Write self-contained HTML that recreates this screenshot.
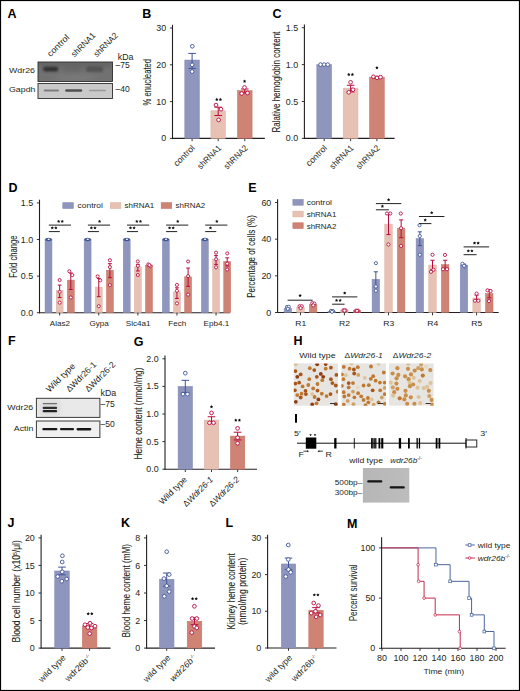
<!DOCTYPE html>
<html><head><meta charset="utf-8"><style>
html,body{margin:0;padding:0;background:#fff;}
body{width:520px;height:691px;overflow:hidden;}
svg{display:block;font-family:"Liberation Sans", sans-serif;}
</style></head><body>
<svg width="520" height="691" viewBox="0 0 520 691">
<rect x="0" y="0" width="520" height="691" fill="#fff"/>
<defs><filter id="bl1" x="-50%" y="-100%" width="200%" height="300%"><feGaussianBlur stdDeviation="1.1"/></filter><filter id="bl2" x="-50%" y="-100%" width="200%" height="300%"><feGaussianBlur stdDeviation="0.7"/></filter><filter id="bl3" x="-20%" y="-20%" width="140%" height="140%"><feGaussianBlur stdDeviation="2.5"/></filter><filter id="bl4"><feGaussianBlur stdDeviation="0.35"/></filter><filter id="bl6" x="-30%" y="-60%" width="160%" height="220%"><feGaussianBlur stdDeviation="0.8"/></filter><filter id="bl5" x="-20%" y="-100%" width="140%" height="300%"><feGaussianBlur stdDeviation="0.55"/></filter><linearGradient id="gelg" x1="0" y1="0" x2="1" y2="0"><stop offset="0" stop-color="#b6b6b6"/><stop offset="1" stop-color="#bdbdbd"/></linearGradient></defs>
<text transform="translate(7.50 17.50)" font-size="12.5" text-anchor="start" font-weight="bold" font-style="normal" fill="#000">A</text>
<clipPath id="clA"><rect x="38" y="62" width="74.5" height="19.5"/></clipPath>
<rect x="38.00" y="62.00" width="74.50" height="19.50" fill="#717171" stroke="none" stroke-width="0.6"/>
<g clip-path="url(#clA)"><g filter="url(#bl3)"><rect x="38" y="60" width="74.5" height="7" fill="#646464"/><ellipse cx="75" cy="77.5" rx="22" ry="3" fill="#7a7a7a"/><rect x="64" y="66" width="17" height="6" fill="#666"/></g>
<g filter="url(#bl1)"><rect x="86" y="66.3" width="17" height="5.6" rx="2.5" fill="#535353"/></g>
<g filter="url(#bl6)"><rect x="43.2" y="66.8" width="15" height="4.6" rx="2" fill="#303030"/></g></g>
<rect x="38.00" y="62.00" width="74.50" height="19.50" fill="none" stroke="#2e2e2e" stroke-width="0.9"/>
<rect x="38.00" y="83.50" width="74.50" height="15.00" fill="#c9c9c9" stroke="none" stroke-width="0.6"/>
<g filter="url(#bl5)"><rect x="43.7" y="89.5" width="15.3" height="1.9" rx="0.9" fill="#7e7e7e"/><rect x="65.2" y="89.3" width="17" height="2.5" rx="1.2" fill="#505050"/><rect x="89" y="89.7" width="17" height="1.6" rx="0.8" fill="#989898"/></g>
<rect x="38.00" y="83.50" width="74.50" height="15.00" fill="none" stroke="#2e2e2e" stroke-width="0.9"/>
<text transform="translate(9.00 72.80) scale(1.09 1)" font-size="8.1" text-anchor="start" font-weight="normal" font-style="normal" fill="#231f20">Wdr26</text>
<text transform="translate(9.00 91.80) scale(1.09 1)" font-size="8.1" text-anchor="start" font-weight="normal" font-style="normal" fill="#231f20">Gapdh</text>
<text transform="translate(117.80 59.90) scale(1.02 1)" font-size="8.6" text-anchor="start" font-weight="normal" font-style="normal" fill="#231f20">kDa</text>
<text transform="translate(115.60 68.30) scale(0.92 1)" font-size="9.3" text-anchor="start" font-weight="normal" font-style="normal" fill="#231f20">–75</text>
<text transform="translate(115.60 91.70) scale(0.92 1)" font-size="9.3" text-anchor="start" font-weight="normal" font-style="normal" fill="#231f20">–40</text>
<text transform="translate(50.50 57.30) rotate(-45) scale(1.06 1)" font-size="8.6" text-anchor="start" font-weight="normal" font-style="normal" fill="#231f20">control</text>
<text transform="translate(74.60 57.60) rotate(-45) scale(0.95 1)" font-size="8.6" text-anchor="start" font-weight="normal" font-style="normal" fill="#231f20">shRNA1</text>
<text transform="translate(97.00 57.60) rotate(-45) scale(0.95 1)" font-size="8.6" text-anchor="start" font-weight="normal" font-style="normal" fill="#231f20">shRNA2</text>
<text transform="translate(142.30 17.50)" font-size="12.5" text-anchor="start" font-weight="bold" font-style="normal" fill="#000">B</text>
<line x1="172.50" y1="24.80" x2="172.50" y2="138.90" stroke="#231f20" stroke-width="1.1"/>
<line x1="172.00" y1="138.40" x2="264.90" y2="138.40" stroke="#231f20" stroke-width="1.1"/>
<line x1="169.90" y1="138.40" x2="172.50" y2="138.40" stroke="#231f20" stroke-width="0.9"/>
<text transform="translate(166.20 141.45) scale(0.99 1)" font-size="9.0" text-anchor="end" font-weight="normal" font-style="normal" fill="#231f20">0</text>
<line x1="169.90" y1="101.60" x2="172.50" y2="101.60" stroke="#231f20" stroke-width="0.9"/>
<text transform="translate(166.20 104.65) scale(0.99 1)" font-size="9.0" text-anchor="end" font-weight="normal" font-style="normal" fill="#231f20">10</text>
<line x1="169.90" y1="64.80" x2="172.50" y2="64.80" stroke="#231f20" stroke-width="0.9"/>
<text transform="translate(166.20 67.85) scale(0.99 1)" font-size="9.0" text-anchor="end" font-weight="normal" font-style="normal" fill="#231f20">20</text>
<line x1="169.90" y1="28.00" x2="172.50" y2="28.00" stroke="#231f20" stroke-width="0.9"/>
<text transform="translate(166.20 31.05) scale(0.99 1)" font-size="9.0" text-anchor="end" font-weight="normal" font-style="normal" fill="#231f20">30</text>
<line x1="192.10" y1="138.40" x2="192.10" y2="141.20" stroke="#231f20" stroke-width="0.9"/>
<line x1="218.20" y1="138.40" x2="218.20" y2="141.20" stroke="#231f20" stroke-width="0.9"/>
<line x1="244.80" y1="138.40" x2="244.80" y2="141.20" stroke="#231f20" stroke-width="0.9"/>
<rect x="184.80" y="60.02" width="14.60" height="78.38" fill="#8f96bd" stroke="#8088b4" stroke-width="0.5"/>
<rect x="210.90" y="110.80" width="14.60" height="27.60" fill="#e6c1b4" stroke="#dcb1a3" stroke-width="0.5"/>
<rect x="237.50" y="90.56" width="14.60" height="47.84" fill="#cf8374" stroke="#c47262" stroke-width="0.5"/>
<line x1="192.10" y1="68.40" x2="192.10" y2="53.40" stroke="#3f5598" stroke-width="1.0"/>
<line x1="188.30" y1="53.40" x2="195.90" y2="53.40" stroke="#3f5598" stroke-width="1.0"/>
<line x1="188.30" y1="68.40" x2="195.90" y2="68.40" stroke="#3f5598" stroke-width="1.0"/>
<line x1="218.20" y1="115.50" x2="218.20" y2="107.20" stroke="#b80a3e" stroke-width="1.0"/>
<line x1="214.40" y1="107.20" x2="222.00" y2="107.20" stroke="#b80a3e" stroke-width="1.0"/>
<line x1="214.40" y1="115.50" x2="222.00" y2="115.50" stroke="#b80a3e" stroke-width="1.0"/>
<line x1="244.80" y1="93.00" x2="244.80" y2="89.00" stroke="#b80a3e" stroke-width="1.0"/>
<line x1="241.00" y1="89.00" x2="248.60" y2="89.00" stroke="#b80a3e" stroke-width="1.0"/>
<line x1="241.00" y1="93.00" x2="248.60" y2="93.00" stroke="#b80a3e" stroke-width="1.0"/>
<circle cx="192.30" cy="46.30" r="1.85" fill="#fff" stroke="#3f5598" stroke-width="0.9"/>
<circle cx="192.10" cy="64.80" r="1.85" fill="#fff" stroke="#3f5598" stroke-width="0.9"/>
<circle cx="192.10" cy="71.60" r="1.85" fill="#fff" stroke="#3f5598" stroke-width="0.9"/>
<circle cx="216.00" cy="105.10" r="1.85" fill="#fff" stroke="#b80a3e" stroke-width="0.9"/>
<circle cx="221.00" cy="109.20" r="1.85" fill="#fff" stroke="#b80a3e" stroke-width="0.9"/>
<circle cx="218.60" cy="119.90" r="1.85" fill="#fff" stroke="#b80a3e" stroke-width="0.9"/>
<circle cx="244.50" cy="87.50" r="1.85" fill="#fff" stroke="#b80a3e" stroke-width="0.9"/>
<circle cx="241.70" cy="93.50" r="1.85" fill="#fff" stroke="#b80a3e" stroke-width="0.9"/>
<circle cx="247.50" cy="93.00" r="1.85" fill="#fff" stroke="#b80a3e" stroke-width="0.9"/>
<polygon points="216.80,97.80 217.36,98.73 218.42,98.97 217.70,99.79 217.80,100.88 216.80,100.45 215.80,100.88 215.90,99.79 215.18,98.97 216.24,98.73" fill="#111"/>
<polygon points="220.40,97.80 220.96,98.73 222.02,98.97 221.30,99.79 221.40,100.88 220.40,100.45 219.40,100.88 219.50,99.79 218.78,98.97 219.84,98.73" fill="#111"/>
<polygon points="244.60,79.60 245.16,80.53 246.22,80.77 245.50,81.59 245.60,82.68 244.60,82.25 243.60,82.68 243.70,81.59 242.98,80.77 244.04,80.53" fill="#111"/>
<text transform="translate(151.20 82.20) rotate(-90) scale(0.77 1)" font-size="10.0" text-anchor="middle" font-weight="normal" font-style="normal" fill="#231f20" stroke="#231f20" stroke-width="0.08">% enucleated</text>
<text transform="translate(195.30 148.60) rotate(-45)" font-size="8.6" text-anchor="end" font-weight="normal" font-style="normal" fill="#231f20">control</text>
<text transform="translate(221.80 148.60) rotate(-45) scale(0.93 1)" font-size="8.6" text-anchor="end" font-weight="normal" font-style="normal" fill="#231f20">shRNA1</text>
<text transform="translate(248.40 148.60) rotate(-45) scale(0.93 1)" font-size="8.6" text-anchor="end" font-weight="normal" font-style="normal" fill="#231f20">shRNA2</text>
<text transform="translate(272.50 17.50)" font-size="12.5" text-anchor="start" font-weight="bold" font-style="normal" fill="#000">C</text>
<line x1="304.40" y1="24.50" x2="304.40" y2="138.90" stroke="#231f20" stroke-width="1.1"/>
<line x1="303.90" y1="138.40" x2="394.60" y2="138.40" stroke="#231f20" stroke-width="1.1"/>
<line x1="301.80" y1="138.40" x2="304.40" y2="138.40" stroke="#231f20" stroke-width="0.9"/>
<text transform="translate(298.10 141.45) scale(0.99 1)" font-size="9.0" text-anchor="end" font-weight="normal" font-style="normal" fill="#231f20">0.0</text>
<line x1="301.80" y1="101.50" x2="304.40" y2="101.50" stroke="#231f20" stroke-width="0.9"/>
<text transform="translate(298.10 104.55) scale(0.99 1)" font-size="9.0" text-anchor="end" font-weight="normal" font-style="normal" fill="#231f20">0.5</text>
<line x1="301.80" y1="64.60" x2="304.40" y2="64.60" stroke="#231f20" stroke-width="0.9"/>
<text transform="translate(298.10 67.65) scale(0.99 1)" font-size="9.0" text-anchor="end" font-weight="normal" font-style="normal" fill="#231f20">1.0</text>
<line x1="301.80" y1="27.70" x2="304.40" y2="27.70" stroke="#231f20" stroke-width="0.9"/>
<text transform="translate(298.10 30.75) scale(0.99 1)" font-size="9.0" text-anchor="end" font-weight="normal" font-style="normal" fill="#231f20">1.5</text>
<line x1="324.20" y1="138.40" x2="324.20" y2="141.20" stroke="#231f20" stroke-width="0.9"/>
<line x1="350.60" y1="138.40" x2="350.60" y2="141.20" stroke="#231f20" stroke-width="0.9"/>
<line x1="376.90" y1="138.40" x2="376.90" y2="141.20" stroke="#231f20" stroke-width="0.9"/>
<rect x="316.80" y="64.60" width="14.80" height="73.80" fill="#8f96bd" stroke="#8088b4" stroke-width="0.5"/>
<rect x="343.20" y="88.22" width="14.80" height="50.18" fill="#e6c1b4" stroke="#dcb1a3" stroke-width="0.5"/>
<rect x="369.50" y="77.15" width="14.80" height="61.25" fill="#cf8374" stroke="#c47262" stroke-width="0.5"/>
<line x1="350.60" y1="91.91" x2="350.60" y2="85.26" stroke="#b80a3e" stroke-width="1.0"/>
<line x1="346.80" y1="85.26" x2="354.40" y2="85.26" stroke="#b80a3e" stroke-width="1.0"/>
<line x1="346.80" y1="91.91" x2="354.40" y2="91.91" stroke="#b80a3e" stroke-width="1.0"/>
<line x1="376.90" y1="78.25" x2="376.90" y2="76.41" stroke="#b80a3e" stroke-width="1.0"/>
<line x1="373.10" y1="76.41" x2="380.70" y2="76.41" stroke="#b80a3e" stroke-width="1.0"/>
<line x1="373.10" y1="78.25" x2="380.70" y2="78.25" stroke="#b80a3e" stroke-width="1.0"/>
<circle cx="320.60" cy="64.60" r="1.85" fill="#fff" stroke="#3f5598" stroke-width="0.9"/>
<circle cx="324.20" cy="64.60" r="1.85" fill="#fff" stroke="#3f5598" stroke-width="0.9"/>
<circle cx="327.80" cy="64.60" r="1.85" fill="#fff" stroke="#3f5598" stroke-width="0.9"/>
<circle cx="350.60" cy="82.31" r="1.85" fill="#fff" stroke="#b80a3e" stroke-width="0.9"/>
<circle cx="348.80" cy="92.28" r="1.85" fill="#fff" stroke="#b80a3e" stroke-width="0.9"/>
<circle cx="353.00" cy="89.69" r="1.85" fill="#fff" stroke="#b80a3e" stroke-width="0.9"/>
<circle cx="373.40" cy="76.78" r="1.85" fill="#fff" stroke="#b80a3e" stroke-width="0.9"/>
<circle cx="377.00" cy="77.88" r="1.85" fill="#fff" stroke="#b80a3e" stroke-width="0.9"/>
<circle cx="380.50" cy="77.15" r="1.85" fill="#fff" stroke="#b80a3e" stroke-width="0.9"/>
<polygon points="348.80,72.80 349.36,73.73 350.42,73.97 349.70,74.79 349.80,75.88 348.80,75.45 347.80,75.88 347.90,74.79 347.18,73.97 348.24,73.73" fill="#111"/>
<polygon points="352.40,72.80 352.96,73.73 354.02,73.97 353.30,74.79 353.40,75.88 352.40,75.45 351.40,75.88 351.50,74.79 350.78,73.97 351.84,73.73" fill="#111"/>
<polygon points="376.90,66.10 377.46,67.03 378.52,67.27 377.80,68.09 377.90,69.18 376.90,68.75 375.90,69.18 376.00,68.09 375.28,67.27 376.34,67.03" fill="#111"/>
<text transform="translate(280.30 82.00) rotate(-90) scale(0.8 1)" font-size="10.0" text-anchor="middle" font-weight="normal" font-style="normal" fill="#231f20" stroke="#231f20" stroke-width="0.08">Ralative hemoglobin content</text>
<text transform="translate(327.60 148.60) rotate(-45)" font-size="8.6" text-anchor="end" font-weight="normal" font-style="normal" fill="#231f20">control</text>
<text transform="translate(354.10 148.60) rotate(-45) scale(0.93 1)" font-size="8.6" text-anchor="end" font-weight="normal" font-style="normal" fill="#231f20">shRNA1</text>
<text transform="translate(380.50 148.60) rotate(-45) scale(0.93 1)" font-size="8.6" text-anchor="end" font-weight="normal" font-style="normal" fill="#231f20">shRNA2</text>
<text transform="translate(8.50 191.50)" font-size="12.5" text-anchor="start" font-weight="bold" font-style="normal" fill="#000">D</text>
<line x1="39.50" y1="199.70" x2="39.50" y2="313.20" stroke="#231f20" stroke-width="1.1"/>
<line x1="39.00" y1="312.70" x2="230.00" y2="312.70" stroke="#231f20" stroke-width="1.1"/>
<line x1="36.90" y1="312.70" x2="39.50" y2="312.70" stroke="#231f20" stroke-width="0.9"/>
<text transform="translate(33.20 315.75) scale(0.99 1)" font-size="9.0" text-anchor="end" font-weight="normal" font-style="normal" fill="#231f20">0.0</text>
<line x1="36.90" y1="276.10" x2="39.50" y2="276.10" stroke="#231f20" stroke-width="0.9"/>
<text transform="translate(33.20 279.15) scale(0.99 1)" font-size="9.0" text-anchor="end" font-weight="normal" font-style="normal" fill="#231f20">0.5</text>
<line x1="36.90" y1="239.50" x2="39.50" y2="239.50" stroke="#231f20" stroke-width="0.9"/>
<text transform="translate(33.20 242.55) scale(0.99 1)" font-size="9.0" text-anchor="end" font-weight="normal" font-style="normal" fill="#231f20">1.0</text>
<line x1="36.90" y1="202.90" x2="39.50" y2="202.90" stroke="#231f20" stroke-width="0.9"/>
<text transform="translate(33.20 205.95) scale(0.99 1)" font-size="9.0" text-anchor="end" font-weight="normal" font-style="normal" fill="#231f20">1.5</text>
<rect x="45.05" y="239.50" width="6.90" height="73.20" fill="#8f96bd" stroke="#8088b4" stroke-width="0.5"/>
<ellipse cx="48.50" cy="239.50" rx="3.3" ry="1.7" fill="#3f5598"/>
<ellipse cx="48.70" cy="239.30" rx="1.1" ry="0.8" fill="#fff"/>
<rect x="56.20" y="290.74" width="6.90" height="21.96" fill="#e6c1b4" stroke="#dcb1a3" stroke-width="0.5"/>
<rect x="67.35" y="280.13" width="6.90" height="32.57" fill="#cf8374" stroke="#c47262" stroke-width="0.5"/>
<line x1="59.65" y1="297.55" x2="59.65" y2="285.10" stroke="#b80a3e" stroke-width="1.0"/>
<line x1="57.75" y1="285.10" x2="61.55" y2="285.10" stroke="#b80a3e" stroke-width="1.0"/>
<line x1="57.75" y1="297.55" x2="61.55" y2="297.55" stroke="#b80a3e" stroke-width="1.0"/>
<line x1="70.80" y1="289.50" x2="70.80" y2="272.95" stroke="#b80a3e" stroke-width="1.0"/>
<line x1="68.90" y1="272.95" x2="72.70" y2="272.95" stroke="#b80a3e" stroke-width="1.0"/>
<line x1="68.90" y1="289.50" x2="72.70" y2="289.50" stroke="#b80a3e" stroke-width="1.0"/>
<circle cx="59.65" cy="280.05" r="1.55" fill="#fff" stroke="#b80a3e" stroke-width="0.85"/>
<circle cx="59.65" cy="291.84" r="1.55" fill="#fff" stroke="#b80a3e" stroke-width="0.85"/>
<circle cx="59.65" cy="302.67" r="1.55" fill="#fff" stroke="#b80a3e" stroke-width="0.85"/>
<circle cx="69.30" cy="271.27" r="1.55" fill="#fff" stroke="#b80a3e" stroke-width="0.85"/>
<circle cx="72.30" cy="275.08" r="1.55" fill="#fff" stroke="#b80a3e" stroke-width="0.85"/>
<circle cx="70.80" cy="297.47" r="1.55" fill="#fff" stroke="#b80a3e" stroke-width="0.85"/>
<line x1="59.65" y1="312.70" x2="59.65" y2="315.50" stroke="#231f20" stroke-width="0.9"/>
<text transform="translate(59.95 325.80)" font-size="8.1" text-anchor="middle" font-weight="normal" font-style="normal" fill="#231f20">Alas2</text>
<line x1="48.80" y1="225.10" x2="71.00" y2="225.10" stroke="#231f20" stroke-width="1.0"/>
<line x1="48.80" y1="231.60" x2="59.85" y2="231.60" stroke="#231f20" stroke-width="1.0"/>
<polygon points="58.65,219.70 59.21,220.63 60.27,220.87 59.55,221.69 59.65,222.78 58.65,222.35 57.65,222.78 57.75,221.69 57.03,220.87 58.09,220.63" fill="#111"/>
<polygon points="62.25,219.70 62.81,220.63 63.87,220.87 63.15,221.69 63.25,222.78 62.25,222.35 61.25,222.78 61.35,221.69 60.63,220.87 61.69,220.63" fill="#111"/>
<polygon points="52.28,226.20 52.83,227.13 53.89,227.37 53.18,228.19 53.27,229.28 52.28,228.85 51.28,229.28 51.37,228.19 50.66,227.37 51.72,227.13" fill="#111"/>
<polygon points="55.88,226.20 56.43,227.13 57.49,227.37 56.78,228.19 56.87,229.28 55.88,228.85 54.88,229.28 54.97,228.19 54.26,227.37 55.32,227.13" fill="#111"/>
<rect x="84.15" y="239.50" width="6.90" height="73.20" fill="#8f96bd" stroke="#8088b4" stroke-width="0.5"/>
<ellipse cx="87.60" cy="239.50" rx="3.3" ry="1.7" fill="#3f5598"/>
<ellipse cx="87.80" cy="239.30" rx="1.1" ry="0.8" fill="#fff"/>
<rect x="95.30" y="287.08" width="6.90" height="25.62" fill="#e6c1b4" stroke="#dcb1a3" stroke-width="0.5"/>
<rect x="106.45" y="270.24" width="6.90" height="42.46" fill="#cf8374" stroke="#c47262" stroke-width="0.5"/>
<line x1="98.75" y1="296.67" x2="98.75" y2="278.59" stroke="#b80a3e" stroke-width="1.0"/>
<line x1="96.85" y1="278.59" x2="100.65" y2="278.59" stroke="#b80a3e" stroke-width="1.0"/>
<line x1="96.85" y1="296.67" x2="100.65" y2="296.67" stroke="#b80a3e" stroke-width="1.0"/>
<line x1="109.90" y1="277.64" x2="109.90" y2="263.66" stroke="#b80a3e" stroke-width="1.0"/>
<line x1="108.00" y1="263.66" x2="111.80" y2="263.66" stroke="#b80a3e" stroke-width="1.0"/>
<line x1="108.00" y1="277.64" x2="111.80" y2="277.64" stroke="#b80a3e" stroke-width="1.0"/>
<circle cx="97.65" cy="276.32" r="1.55" fill="#fff" stroke="#b80a3e" stroke-width="0.85"/>
<circle cx="100.25" cy="280.35" r="1.55" fill="#fff" stroke="#b80a3e" stroke-width="0.85"/>
<circle cx="98.75" cy="306.19" r="1.55" fill="#fff" stroke="#b80a3e" stroke-width="0.85"/>
<circle cx="109.90" cy="260.22" r="1.55" fill="#fff" stroke="#b80a3e" stroke-width="0.85"/>
<circle cx="109.90" cy="267.10" r="1.55" fill="#fff" stroke="#b80a3e" stroke-width="0.85"/>
<circle cx="109.90" cy="285.10" r="1.55" fill="#fff" stroke="#b80a3e" stroke-width="0.85"/>
<line x1="98.75" y1="312.70" x2="98.75" y2="315.50" stroke="#231f20" stroke-width="0.9"/>
<text transform="translate(99.05 325.80)" font-size="8.1" text-anchor="middle" font-weight="normal" font-style="normal" fill="#231f20">Gypa</text>
<line x1="87.90" y1="225.10" x2="110.10" y2="225.10" stroke="#231f20" stroke-width="1.0"/>
<line x1="87.90" y1="231.60" x2="98.95" y2="231.60" stroke="#231f20" stroke-width="1.0"/>
<polygon points="99.55,219.70 100.11,220.63 101.17,220.87 100.45,221.69 100.55,222.78 99.55,222.35 98.55,222.78 98.65,221.69 97.93,220.87 98.99,220.63" fill="#111"/>
<polygon points="91.38,226.20 91.93,227.13 92.99,227.37 92.28,228.19 92.37,229.28 91.38,228.85 90.38,229.28 90.47,228.19 89.76,227.37 90.82,227.13" fill="#111"/>
<polygon points="94.97,226.20 95.53,227.13 96.59,227.37 95.88,228.19 95.97,229.28 94.97,228.85 93.98,229.28 94.07,228.19 93.36,227.37 94.42,227.13" fill="#111"/>
<rect x="123.25" y="239.50" width="6.90" height="73.20" fill="#8f96bd" stroke="#8088b4" stroke-width="0.5"/>
<ellipse cx="126.70" cy="239.50" rx="3.3" ry="1.7" fill="#3f5598"/>
<ellipse cx="126.90" cy="239.30" rx="1.1" ry="0.8" fill="#fff"/>
<rect x="134.40" y="266.88" width="6.90" height="45.82" fill="#e6c1b4" stroke="#dcb1a3" stroke-width="0.5"/>
<rect x="145.55" y="265.27" width="6.90" height="47.43" fill="#cf8374" stroke="#c47262" stroke-width="0.5"/>
<line x1="137.85" y1="270.98" x2="137.85" y2="264.39" stroke="#b80a3e" stroke-width="1.0"/>
<line x1="135.95" y1="264.39" x2="139.75" y2="264.39" stroke="#b80a3e" stroke-width="1.0"/>
<line x1="135.95" y1="270.98" x2="139.75" y2="270.98" stroke="#b80a3e" stroke-width="1.0"/>
<line x1="149.00" y1="265.85" x2="149.00" y2="264.39" stroke="#b80a3e" stroke-width="1.0"/>
<line x1="147.10" y1="264.39" x2="150.90" y2="264.39" stroke="#b80a3e" stroke-width="1.0"/>
<line x1="147.10" y1="265.85" x2="150.90" y2="265.85" stroke="#b80a3e" stroke-width="1.0"/>
<circle cx="137.85" cy="261.46" r="1.55" fill="#fff" stroke="#b80a3e" stroke-width="0.85"/>
<circle cx="137.85" cy="265.85" r="1.55" fill="#fff" stroke="#b80a3e" stroke-width="0.85"/>
<circle cx="137.85" cy="275.00" r="1.55" fill="#fff" stroke="#b80a3e" stroke-width="0.85"/>
<circle cx="148.30" cy="264.39" r="1.55" fill="#fff" stroke="#b80a3e" stroke-width="0.85"/>
<circle cx="150.40" cy="266.22" r="1.55" fill="#fff" stroke="#b80a3e" stroke-width="0.85"/>
<circle cx="149.40" cy="265.12" r="1.55" fill="#fff" stroke="#b80a3e" stroke-width="0.85"/>
<line x1="137.85" y1="312.70" x2="137.85" y2="315.50" stroke="#231f20" stroke-width="0.9"/>
<text transform="translate(138.15 325.80)" font-size="8.1" text-anchor="middle" font-weight="normal" font-style="normal" fill="#231f20">Slc4a1</text>
<line x1="127.00" y1="225.10" x2="149.20" y2="225.10" stroke="#231f20" stroke-width="1.0"/>
<line x1="127.00" y1="231.60" x2="138.05" y2="231.60" stroke="#231f20" stroke-width="1.0"/>
<polygon points="136.85,219.70 137.41,220.63 138.47,220.87 137.75,221.69 137.85,222.78 136.85,222.35 135.85,222.78 135.95,221.69 135.23,220.87 136.29,220.63" fill="#111"/>
<polygon points="140.45,219.70 141.01,220.63 142.07,220.87 141.35,221.69 141.45,222.78 140.45,222.35 139.45,222.78 139.55,221.69 138.83,220.87 139.89,220.63" fill="#111"/>
<polygon points="130.47,226.20 131.03,227.13 132.09,227.37 131.38,228.19 131.47,229.28 130.47,228.85 129.48,229.28 129.57,228.19 128.86,227.37 129.92,227.13" fill="#111"/>
<polygon points="134.08,226.20 134.63,227.13 135.69,227.37 134.98,228.19 135.07,229.28 134.08,228.85 133.08,229.28 133.17,228.19 132.46,227.37 133.52,227.13" fill="#111"/>
<rect x="162.35" y="239.50" width="6.90" height="73.20" fill="#8f96bd" stroke="#8088b4" stroke-width="0.5"/>
<ellipse cx="165.80" cy="239.50" rx="3.3" ry="1.7" fill="#3f5598"/>
<ellipse cx="166.00" cy="239.30" rx="1.1" ry="0.8" fill="#fff"/>
<rect x="173.50" y="291.84" width="6.90" height="20.86" fill="#e6c1b4" stroke="#dcb1a3" stroke-width="0.5"/>
<rect x="184.65" y="276.83" width="6.90" height="35.87" fill="#cf8374" stroke="#c47262" stroke-width="0.5"/>
<line x1="176.95" y1="298.43" x2="176.95" y2="287.81" stroke="#b80a3e" stroke-width="1.0"/>
<line x1="175.05" y1="287.81" x2="178.85" y2="287.81" stroke="#b80a3e" stroke-width="1.0"/>
<line x1="175.05" y1="298.43" x2="178.85" y2="298.43" stroke="#b80a3e" stroke-width="1.0"/>
<line x1="188.10" y1="286.35" x2="188.10" y2="268.05" stroke="#b80a3e" stroke-width="1.0"/>
<line x1="186.20" y1="268.05" x2="190.00" y2="268.05" stroke="#b80a3e" stroke-width="1.0"/>
<line x1="186.20" y1="286.35" x2="190.00" y2="286.35" stroke="#b80a3e" stroke-width="1.0"/>
<circle cx="176.95" cy="284.88" r="1.55" fill="#fff" stroke="#b80a3e" stroke-width="0.85"/>
<circle cx="176.95" cy="290.74" r="1.55" fill="#fff" stroke="#b80a3e" stroke-width="0.85"/>
<circle cx="176.95" cy="303.40" r="1.55" fill="#fff" stroke="#b80a3e" stroke-width="0.85"/>
<circle cx="188.10" cy="261.46" r="1.55" fill="#fff" stroke="#b80a3e" stroke-width="0.85"/>
<circle cx="188.10" cy="276.10" r="1.55" fill="#fff" stroke="#b80a3e" stroke-width="0.85"/>
<circle cx="188.10" cy="294.62" r="1.55" fill="#fff" stroke="#b80a3e" stroke-width="0.85"/>
<line x1="176.95" y1="312.70" x2="176.95" y2="315.50" stroke="#231f20" stroke-width="0.9"/>
<text transform="translate(177.25 325.80)" font-size="8.1" text-anchor="middle" font-weight="normal" font-style="normal" fill="#231f20">Fech</text>
<line x1="166.10" y1="225.10" x2="188.30" y2="225.10" stroke="#231f20" stroke-width="1.0"/>
<line x1="166.10" y1="231.60" x2="177.15" y2="231.60" stroke="#231f20" stroke-width="1.0"/>
<polygon points="177.75,219.70 178.31,220.63 179.37,220.87 178.65,221.69 178.75,222.78 177.75,222.35 176.75,222.78 176.85,221.69 176.13,220.87 177.19,220.63" fill="#111"/>
<polygon points="169.57,226.20 170.13,227.13 171.19,227.37 170.48,228.19 170.57,229.28 169.57,228.85 168.58,229.28 168.67,228.19 167.96,227.37 169.02,227.13" fill="#111"/>
<polygon points="173.18,226.20 173.73,227.13 174.79,227.37 174.08,228.19 174.17,229.28 173.18,228.85 172.18,229.28 172.27,228.19 171.56,227.37 172.62,227.13" fill="#111"/>
<rect x="201.45" y="239.50" width="6.90" height="73.20" fill="#8f96bd" stroke="#8088b4" stroke-width="0.5"/>
<ellipse cx="204.90" cy="239.50" rx="3.3" ry="1.7" fill="#3f5598"/>
<ellipse cx="205.10" cy="239.30" rx="1.1" ry="0.8" fill="#fff"/>
<rect x="212.60" y="259.26" width="6.90" height="53.44" fill="#e6c1b4" stroke="#dcb1a3" stroke-width="0.5"/>
<rect x="223.75" y="261.46" width="6.90" height="51.24" fill="#cf8374" stroke="#c47262" stroke-width="0.5"/>
<line x1="216.05" y1="264.39" x2="216.05" y2="255.60" stroke="#b80a3e" stroke-width="1.0"/>
<line x1="214.15" y1="255.60" x2="217.95" y2="255.60" stroke="#b80a3e" stroke-width="1.0"/>
<line x1="214.15" y1="264.39" x2="217.95" y2="264.39" stroke="#b80a3e" stroke-width="1.0"/>
<line x1="227.20" y1="265.85" x2="227.20" y2="257.80" stroke="#b80a3e" stroke-width="1.0"/>
<line x1="225.30" y1="257.80" x2="229.10" y2="257.80" stroke="#b80a3e" stroke-width="1.0"/>
<line x1="225.30" y1="265.85" x2="229.10" y2="265.85" stroke="#b80a3e" stroke-width="1.0"/>
<circle cx="216.05" cy="252.68" r="1.55" fill="#fff" stroke="#b80a3e" stroke-width="0.85"/>
<circle cx="216.05" cy="259.26" r="1.55" fill="#fff" stroke="#b80a3e" stroke-width="0.85"/>
<circle cx="216.05" cy="267.32" r="1.55" fill="#fff" stroke="#b80a3e" stroke-width="0.85"/>
<circle cx="227.20" cy="253.41" r="1.55" fill="#fff" stroke="#b80a3e" stroke-width="0.85"/>
<circle cx="227.20" cy="263.66" r="1.55" fill="#fff" stroke="#b80a3e" stroke-width="0.85"/>
<circle cx="227.20" cy="269.51" r="1.55" fill="#fff" stroke="#b80a3e" stroke-width="0.85"/>
<line x1="216.05" y1="312.70" x2="216.05" y2="315.50" stroke="#231f20" stroke-width="0.9"/>
<text transform="translate(216.35 325.80)" font-size="8.1" text-anchor="middle" font-weight="normal" font-style="normal" fill="#231f20">Epb4.1</text>
<line x1="205.20" y1="225.10" x2="227.40" y2="225.10" stroke="#231f20" stroke-width="1.0"/>
<line x1="205.20" y1="231.60" x2="216.25" y2="231.60" stroke="#231f20" stroke-width="1.0"/>
<polygon points="216.85,219.70 217.41,220.63 218.47,220.87 217.75,221.69 217.85,222.78 216.85,222.35 215.85,222.78 215.95,221.69 215.23,220.87 216.29,220.63" fill="#111"/>
<polygon points="210.48,226.20 211.03,227.13 212.09,227.37 211.38,228.19 211.47,229.28 210.48,228.85 209.48,229.28 209.57,228.19 208.86,227.37 209.92,227.13" fill="#111"/>
<rect x="62.80" y="202.70" width="10.50" height="5.70" fill="#8f96bd" stroke="#8088b4" stroke-width="0.6"/>
<text transform="translate(77.60 208.40) scale(1.04 1)" font-size="8.1" text-anchor="start" font-weight="normal" font-style="normal" fill="#231f20">control</text>
<rect x="110.30" y="202.70" width="10.50" height="5.70" fill="#e6c1b4" stroke="#dcb1a3" stroke-width="0.6"/>
<text transform="translate(124.60 208.40) scale(0.985 1)" font-size="8.1" text-anchor="start" font-weight="normal" font-style="normal" fill="#231f20">shRNA1</text>
<rect x="161.20" y="202.70" width="10.50" height="5.70" fill="#cf8374" stroke="#c47262" stroke-width="0.6"/>
<text transform="translate(175.50 208.40) scale(0.985 1)" font-size="8.1" text-anchor="start" font-weight="normal" font-style="normal" fill="#231f20">shRNA2</text>
<text transform="translate(17.20 256.50) rotate(-90) scale(0.77 1)" font-size="10.0" text-anchor="middle" font-weight="normal" font-style="normal" fill="#231f20" stroke="#231f20" stroke-width="0.08">Fold change</text>
<text transform="translate(248.30 191.50)" font-size="12.5" text-anchor="start" font-weight="bold" font-style="normal" fill="#000">E</text>
<line x1="277.60" y1="199.30" x2="277.60" y2="313.00" stroke="#231f20" stroke-width="1.1"/>
<line x1="277.10" y1="312.50" x2="498.70" y2="312.50" stroke="#231f20" stroke-width="1.1"/>
<line x1="275.00" y1="312.50" x2="277.60" y2="312.50" stroke="#231f20" stroke-width="0.9"/>
<text transform="translate(271.30 315.55) scale(0.99 1)" font-size="9.0" text-anchor="end" font-weight="normal" font-style="normal" fill="#231f20">0</text>
<line x1="275.00" y1="275.83" x2="277.60" y2="275.83" stroke="#231f20" stroke-width="0.9"/>
<text transform="translate(271.30 278.88) scale(0.99 1)" font-size="9.0" text-anchor="end" font-weight="normal" font-style="normal" fill="#231f20">20</text>
<line x1="275.00" y1="239.17" x2="277.60" y2="239.17" stroke="#231f20" stroke-width="0.9"/>
<text transform="translate(271.30 242.22) scale(0.99 1)" font-size="9.0" text-anchor="end" font-weight="normal" font-style="normal" fill="#231f20">40</text>
<line x1="275.00" y1="202.50" x2="277.60" y2="202.50" stroke="#231f20" stroke-width="0.9"/>
<text transform="translate(271.30 205.55) scale(0.99 1)" font-size="9.0" text-anchor="end" font-weight="normal" font-style="normal" fill="#231f20">60</text>
<rect x="284.10" y="308.28" width="7.50" height="4.22" fill="#8f96bd" stroke="#8088b4" stroke-width="0.5"/>
<circle cx="287.00" cy="307.00" r="1.6" fill="#fff" stroke="#3f5598" stroke-width="0.85"/>
<circle cx="288.80" cy="306.82" r="1.6" fill="#fff" stroke="#3f5598" stroke-width="0.85"/>
<circle cx="287.80" cy="308.83" r="1.6" fill="#fff" stroke="#3f5598" stroke-width="0.85"/>
<rect x="296.75" y="307.37" width="7.50" height="5.13" fill="#e6c1b4" stroke="#dcb1a3" stroke-width="0.5"/>
<circle cx="299.50" cy="306.27" r="1.6" fill="#fff" stroke="#b80a3e" stroke-width="0.85"/>
<circle cx="301.70" cy="306.27" r="1.6" fill="#fff" stroke="#b80a3e" stroke-width="0.85"/>
<circle cx="300.60" cy="308.10" r="1.6" fill="#fff" stroke="#b80a3e" stroke-width="0.85"/>
<rect x="309.40" y="304.62" width="7.50" height="7.88" fill="#cf8374" stroke="#c47262" stroke-width="0.5"/>
<circle cx="312.30" cy="303.15" r="1.6" fill="#fff" stroke="#b80a3e" stroke-width="0.85"/>
<circle cx="314.30" cy="303.52" r="1.6" fill="#fff" stroke="#b80a3e" stroke-width="0.85"/>
<circle cx="313.30" cy="305.35" r="1.6" fill="#fff" stroke="#b80a3e" stroke-width="0.85"/>
<line x1="300.50" y1="312.50" x2="300.50" y2="315.30" stroke="#231f20" stroke-width="0.9"/>
<text transform="translate(300.70 325.80) scale(1.06 1)" font-size="8.1" text-anchor="middle" font-weight="normal" font-style="normal" fill="#231f20">R1</text>
<rect x="328.00" y="311.40" width="7.50" height="1.10" fill="#8f96bd" stroke="#8088b4" stroke-width="0.5"/>
<circle cx="331.00" cy="310.85" r="1.6" fill="#fff" stroke="#3f5598" stroke-width="0.85"/>
<circle cx="333.00" cy="311.03" r="1.6" fill="#fff" stroke="#3f5598" stroke-width="0.85"/>
<circle cx="332.00" cy="311.77" r="1.6" fill="#fff" stroke="#3f5598" stroke-width="0.85"/>
<rect x="340.65" y="310.30" width="7.50" height="2.20" fill="#e6c1b4" stroke="#dcb1a3" stroke-width="0.5"/>
<circle cx="343.40" cy="310.30" r="1.6" fill="#fff" stroke="#b80a3e" stroke-width="0.85"/>
<circle cx="345.50" cy="310.30" r="1.6" fill="#fff" stroke="#b80a3e" stroke-width="0.85"/>
<circle cx="344.50" cy="310.67" r="1.6" fill="#fff" stroke="#b80a3e" stroke-width="0.85"/>
<rect x="353.30" y="310.67" width="7.50" height="1.83" fill="#cf8374" stroke="#c47262" stroke-width="0.5"/>
<circle cx="356.00" cy="310.67" r="1.6" fill="#fff" stroke="#b80a3e" stroke-width="0.85"/>
<circle cx="358.00" cy="310.67" r="1.6" fill="#fff" stroke="#b80a3e" stroke-width="0.85"/>
<circle cx="357.00" cy="310.85" r="1.6" fill="#fff" stroke="#b80a3e" stroke-width="0.85"/>
<line x1="344.40" y1="312.50" x2="344.40" y2="315.30" stroke="#231f20" stroke-width="0.9"/>
<text transform="translate(344.60 325.80) scale(1.06 1)" font-size="8.1" text-anchor="middle" font-weight="normal" font-style="normal" fill="#231f20">R2</text>
<rect x="372.10" y="279.32" width="7.50" height="33.18" fill="#8f96bd" stroke="#8088b4" stroke-width="0.5"/>
<line x1="375.85" y1="286.83" x2="375.85" y2="271.80" stroke="#3f5598" stroke-width="1.0"/>
<line x1="373.75" y1="271.80" x2="377.95" y2="271.80" stroke="#3f5598" stroke-width="1.0"/>
<line x1="373.75" y1="286.83" x2="377.95" y2="286.83" stroke="#3f5598" stroke-width="1.0"/>
<circle cx="375.90" cy="263.18" r="1.6" fill="#fff" stroke="#3f5598" stroke-width="0.85"/>
<circle cx="375.90" cy="286.47" r="1.6" fill="#fff" stroke="#3f5598" stroke-width="0.85"/>
<circle cx="375.90" cy="290.68" r="1.6" fill="#fff" stroke="#3f5598" stroke-width="0.85"/>
<rect x="384.75" y="224.13" width="7.50" height="88.37" fill="#e6c1b4" stroke="#dcb1a3" stroke-width="0.5"/>
<line x1="388.50" y1="234.58" x2="388.50" y2="214.42" stroke="#b80a3e" stroke-width="1.0"/>
<line x1="386.40" y1="214.42" x2="390.60" y2="214.42" stroke="#b80a3e" stroke-width="1.0"/>
<line x1="386.40" y1="234.58" x2="390.60" y2="234.58" stroke="#b80a3e" stroke-width="1.0"/>
<circle cx="387.00" cy="213.50" r="1.6" fill="#fff" stroke="#b80a3e" stroke-width="0.85"/>
<circle cx="390.20" cy="213.50" r="1.6" fill="#fff" stroke="#b80a3e" stroke-width="0.85"/>
<circle cx="388.40" cy="244.48" r="1.6" fill="#fff" stroke="#b80a3e" stroke-width="0.85"/>
<rect x="397.40" y="228.17" width="7.50" height="84.33" fill="#cf8374" stroke="#c47262" stroke-width="0.5"/>
<line x1="401.15" y1="237.70" x2="401.15" y2="219.92" stroke="#b80a3e" stroke-width="1.0"/>
<line x1="399.05" y1="219.92" x2="403.25" y2="219.92" stroke="#b80a3e" stroke-width="1.0"/>
<line x1="399.05" y1="237.70" x2="403.25" y2="237.70" stroke="#b80a3e" stroke-width="1.0"/>
<circle cx="400.80" cy="213.50" r="1.6" fill="#fff" stroke="#b80a3e" stroke-width="0.85"/>
<circle cx="401.10" cy="228.17" r="1.6" fill="#fff" stroke="#b80a3e" stroke-width="0.85"/>
<circle cx="401.10" cy="245.95" r="1.6" fill="#fff" stroke="#b80a3e" stroke-width="0.85"/>
<line x1="388.50" y1="312.50" x2="388.50" y2="315.30" stroke="#231f20" stroke-width="0.9"/>
<text transform="translate(388.70 325.80) scale(1.06 1)" font-size="8.1" text-anchor="middle" font-weight="normal" font-style="normal" fill="#231f20">R3</text>
<rect x="416.10" y="238.62" width="7.50" height="73.88" fill="#8f96bd" stroke="#8088b4" stroke-width="0.5"/>
<line x1="419.85" y1="245.58" x2="419.85" y2="231.83" stroke="#3f5598" stroke-width="1.0"/>
<line x1="417.75" y1="231.83" x2="421.95" y2="231.83" stroke="#3f5598" stroke-width="1.0"/>
<line x1="417.75" y1="245.58" x2="421.95" y2="245.58" stroke="#3f5598" stroke-width="1.0"/>
<circle cx="419.50" cy="225.23" r="1.6" fill="#fff" stroke="#3f5598" stroke-width="0.85"/>
<circle cx="419.80" cy="236.05" r="1.6" fill="#fff" stroke="#3f5598" stroke-width="0.85"/>
<circle cx="419.80" cy="254.75" r="1.6" fill="#fff" stroke="#3f5598" stroke-width="0.85"/>
<rect x="428.75" y="265.02" width="7.50" height="47.48" fill="#e6c1b4" stroke="#dcb1a3" stroke-width="0.5"/>
<line x1="432.50" y1="269.78" x2="432.50" y2="260.25" stroke="#b80a3e" stroke-width="1.0"/>
<line x1="430.40" y1="260.25" x2="434.60" y2="260.25" stroke="#b80a3e" stroke-width="1.0"/>
<line x1="430.40" y1="269.78" x2="434.60" y2="269.78" stroke="#b80a3e" stroke-width="1.0"/>
<circle cx="432.50" cy="254.75" r="1.6" fill="#fff" stroke="#b80a3e" stroke-width="0.85"/>
<circle cx="433.50" cy="269.78" r="1.6" fill="#fff" stroke="#b80a3e" stroke-width="0.85"/>
<circle cx="431.00" cy="271.80" r="1.6" fill="#fff" stroke="#b80a3e" stroke-width="0.85"/>
<rect x="441.40" y="264.65" width="7.50" height="47.85" fill="#cf8374" stroke="#c47262" stroke-width="0.5"/>
<line x1="445.15" y1="269.78" x2="445.15" y2="260.25" stroke="#b80a3e" stroke-width="1.0"/>
<line x1="443.05" y1="260.25" x2="447.25" y2="260.25" stroke="#b80a3e" stroke-width="1.0"/>
<line x1="443.05" y1="269.78" x2="447.25" y2="269.78" stroke="#b80a3e" stroke-width="1.0"/>
<circle cx="445.00" cy="254.93" r="1.6" fill="#fff" stroke="#b80a3e" stroke-width="0.85"/>
<circle cx="443.00" cy="269.23" r="1.6" fill="#fff" stroke="#b80a3e" stroke-width="0.85"/>
<circle cx="447.00" cy="269.23" r="1.6" fill="#fff" stroke="#b80a3e" stroke-width="0.85"/>
<line x1="432.50" y1="312.50" x2="432.50" y2="315.30" stroke="#231f20" stroke-width="0.9"/>
<text transform="translate(432.70 325.80) scale(1.06 1)" font-size="8.1" text-anchor="middle" font-weight="normal" font-style="normal" fill="#231f20">R4</text>
<rect x="460.20" y="265.02" width="7.50" height="47.48" fill="#8f96bd" stroke="#8088b4" stroke-width="0.5"/>
<line x1="463.95" y1="265.75" x2="463.95" y2="264.10" stroke="#3f5598" stroke-width="1.0"/>
<line x1="461.85" y1="264.10" x2="466.05" y2="264.10" stroke="#3f5598" stroke-width="1.0"/>
<line x1="461.85" y1="265.75" x2="466.05" y2="265.75" stroke="#3f5598" stroke-width="1.0"/>
<circle cx="462.40" cy="263.73" r="1.6" fill="#fff" stroke="#3f5598" stroke-width="0.85"/>
<circle cx="465.00" cy="266.48" r="1.6" fill="#fff" stroke="#3f5598" stroke-width="0.85"/>
<circle cx="464.00" cy="265.75" r="1.6" fill="#fff" stroke="#3f5598" stroke-width="0.85"/>
<rect x="472.85" y="298.02" width="7.50" height="14.48" fill="#e6c1b4" stroke="#dcb1a3" stroke-width="0.5"/>
<line x1="476.60" y1="300.58" x2="476.60" y2="295.08" stroke="#b80a3e" stroke-width="1.0"/>
<line x1="474.50" y1="295.08" x2="478.70" y2="295.08" stroke="#b80a3e" stroke-width="1.0"/>
<line x1="474.50" y1="300.58" x2="478.70" y2="300.58" stroke="#b80a3e" stroke-width="1.0"/>
<circle cx="476.60" cy="293.62" r="1.6" fill="#fff" stroke="#b80a3e" stroke-width="0.85"/>
<circle cx="475.00" cy="300.77" r="1.6" fill="#fff" stroke="#b80a3e" stroke-width="0.85"/>
<circle cx="478.30" cy="300.77" r="1.6" fill="#fff" stroke="#b80a3e" stroke-width="0.85"/>
<rect x="485.50" y="293.62" width="7.50" height="18.88" fill="#cf8374" stroke="#c47262" stroke-width="0.5"/>
<line x1="489.25" y1="297.83" x2="489.25" y2="289.58" stroke="#b80a3e" stroke-width="1.0"/>
<line x1="487.15" y1="289.58" x2="491.35" y2="289.58" stroke="#b80a3e" stroke-width="1.0"/>
<line x1="487.15" y1="297.83" x2="491.35" y2="297.83" stroke="#b80a3e" stroke-width="1.0"/>
<circle cx="487.50" cy="290.32" r="1.6" fill="#fff" stroke="#b80a3e" stroke-width="0.85"/>
<circle cx="490.60" cy="291.05" r="1.6" fill="#fff" stroke="#b80a3e" stroke-width="0.85"/>
<circle cx="489.00" cy="301.13" r="1.6" fill="#fff" stroke="#b80a3e" stroke-width="0.85"/>
<line x1="476.60" y1="312.50" x2="476.60" y2="315.30" stroke="#231f20" stroke-width="0.9"/>
<text transform="translate(476.80 325.80) scale(1.06 1)" font-size="8.1" text-anchor="middle" font-weight="normal" font-style="normal" fill="#231f20">R5</text>
<line x1="287.60" y1="300.20" x2="312.60" y2="300.20" stroke="#231f20" stroke-width="1.0"/>
<polygon points="300.10,293.90 300.66,294.83 301.72,295.07 301.00,295.89 301.10,296.98 300.10,296.55 299.10,296.98 299.20,295.89 298.48,295.07 299.54,294.83" fill="#111"/>
<line x1="332.10" y1="296.90" x2="357.30" y2="296.90" stroke="#231f20" stroke-width="1.0"/>
<polygon points="344.70,291.40 345.26,292.33 346.32,292.57 345.60,293.39 345.70,294.48 344.70,294.05 343.70,294.48 343.80,293.39 343.08,292.57 344.14,292.33" fill="#111"/>
<line x1="332.10" y1="304.20" x2="344.60" y2="304.20" stroke="#231f20" stroke-width="1.0"/>
<polygon points="336.55,298.70 337.11,299.63 338.17,299.87 337.45,300.69 337.55,301.78 336.55,301.35 335.55,301.78 335.65,300.69 334.93,299.87 335.99,299.63" fill="#111"/>
<polygon points="340.15,298.70 340.71,299.63 341.77,299.87 341.05,300.69 341.15,301.78 340.15,301.35 339.15,301.78 339.25,300.69 338.53,299.87 339.59,299.63" fill="#111"/>
<line x1="375.90" y1="203.60" x2="401.30" y2="203.60" stroke="#231f20" stroke-width="1.0"/>
<polygon points="388.60,198.10 389.16,199.03 390.22,199.27 389.50,200.09 389.60,201.18 388.60,200.75 387.60,201.18 387.70,200.09 386.98,199.27 388.04,199.03" fill="#111"/>
<line x1="375.90" y1="209.80" x2="388.90" y2="209.80" stroke="#231f20" stroke-width="1.0"/>
<polygon points="382.40,204.60 382.96,205.53 384.02,205.77 383.30,206.59 383.40,207.68 382.40,207.25 381.40,207.68 381.50,206.59 380.78,205.77 381.84,205.53" fill="#111"/>
<line x1="419.00" y1="216.50" x2="444.40" y2="216.50" stroke="#231f20" stroke-width="1.0"/>
<polygon points="431.70,211.00 432.26,211.93 433.32,212.17 432.60,212.99 432.70,214.08 431.70,213.65 430.70,214.08 430.80,212.99 430.08,212.17 431.14,211.93" fill="#111"/>
<line x1="419.00" y1="223.60" x2="431.40" y2="223.60" stroke="#231f20" stroke-width="1.0"/>
<polygon points="425.20,218.30 425.76,219.23 426.82,219.47 426.10,220.29 426.20,221.38 425.20,220.95 424.20,221.38 424.30,220.29 423.58,219.47 424.64,219.23" fill="#111"/>
<line x1="463.60" y1="246.90" x2="489.10" y2="246.90" stroke="#231f20" stroke-width="1.0"/>
<polygon points="474.55,241.40 475.11,242.33 476.17,242.57 475.45,243.39 475.55,244.48 474.55,244.05 473.55,244.48 473.65,243.39 472.93,242.57 473.99,242.33" fill="#111"/>
<polygon points="478.15,241.40 478.71,242.33 479.77,242.57 479.05,243.39 479.15,244.48 478.15,244.05 477.15,244.48 477.25,243.39 476.53,242.57 477.59,242.33" fill="#111"/>
<line x1="463.60" y1="254.70" x2="476.60" y2="254.70" stroke="#231f20" stroke-width="1.0"/>
<polygon points="468.30,249.20 468.86,250.13 469.92,250.37 469.20,251.19 469.30,252.28 468.30,251.85 467.30,252.28 467.40,251.19 466.68,250.37 467.74,250.13" fill="#111"/>
<polygon points="471.90,249.20 472.46,250.13 473.52,250.37 472.80,251.19 472.90,252.28 471.90,251.85 470.90,252.28 471.00,251.19 470.28,250.37 471.34,250.13" fill="#111"/>
<rect x="292.90" y="199.50" width="10.30" height="5.70" fill="#8f96bd" stroke="#8088b4" stroke-width="0.6"/>
<text transform="translate(306.70 204.90) scale(1.04 1)" font-size="8.1" text-anchor="start" font-weight="normal" font-style="normal" fill="#231f20">control</text>
<rect x="292.90" y="211.20" width="10.30" height="5.70" fill="#e6c1b4" stroke="#dcb1a3" stroke-width="0.6"/>
<text transform="translate(306.70 216.90) scale(0.985 1)" font-size="8.1" text-anchor="start" font-weight="normal" font-style="normal" fill="#231f20">shRNA1</text>
<rect x="292.90" y="222.80" width="10.30" height="5.70" fill="#cf8374" stroke="#c47262" stroke-width="0.6"/>
<text transform="translate(306.70 228.50) scale(0.985 1)" font-size="8.1" text-anchor="start" font-weight="normal" font-style="normal" fill="#231f20">shRNA2</text>
<text transform="translate(255.00 256.50) rotate(-90) scale(0.8 1)" font-size="10.0" text-anchor="middle" font-weight="normal" font-style="normal" fill="#231f20" stroke="#231f20" stroke-width="0.08">Percentage of cells (%)</text>
<text transform="translate(8.00 345.00)" font-size="12.5" text-anchor="start" font-weight="bold" font-style="normal" fill="#000">F</text>
<rect x="36.40" y="398.30" width="63.50" height="19.10" fill="#e9e9e9" stroke="none" stroke-width="0.6"/>
<g filter="url(#bl3)"><rect x="40" y="401" width="20" height="14" fill="#dcdcdc"/></g>
<g filter="url(#bl5)"><rect x="42.7" y="403.0" width="14.4" height="1.2" rx="0.6" fill="#6e6e6e"/><rect x="42.7" y="406.7" width="14.4" height="2.2" rx="1" fill="#2e2e2e"/><rect x="42.7" y="410.1" width="14.4" height="2.1" rx="1" fill="#222"/></g>
<rect x="36.40" y="398.30" width="63.50" height="19.10" fill="none" stroke="#3a3a3a" stroke-width="1.0"/>
<rect x="36.40" y="421.00" width="63.50" height="16.50" fill="#f0f0f0" stroke="none" stroke-width="0.6"/>
<g filter="url(#bl5)"><rect x="42.3" y="428.0" width="15.1" height="2.3" rx="1.1" fill="#151515"/><rect x="60" y="428.1" width="14" height="2.1" rx="1" fill="#1a1a1a"/><rect x="76.5" y="428.0" width="14.8" height="2.4" rx="1.1" fill="#151515"/></g>
<rect x="36.40" y="421.00" width="63.50" height="16.50" fill="none" stroke="#3a3a3a" stroke-width="1.0"/>
<text transform="translate(7.20 410.30) scale(1.09 1)" font-size="8.1" text-anchor="start" font-weight="normal" font-style="normal" fill="#231f20">Wdr26</text>
<text transform="translate(13.80 431.00) scale(1.09 1)" font-size="8.1" text-anchor="start" font-weight="normal" font-style="normal" fill="#231f20">Actin</text>
<text transform="translate(100.60 395.90)" font-size="8.8" text-anchor="start" font-weight="normal" font-style="normal" fill="#231f20">kDa</text>
<text transform="translate(100.50 406.80) scale(0.92 1)" font-size="9.3" text-anchor="start" font-weight="normal" font-style="normal" fill="#231f20">–75</text>
<text transform="translate(100.50 427.00) scale(0.92 1)" font-size="9.3" text-anchor="start" font-weight="normal" font-style="normal" fill="#231f20">–50</text>
<text transform="translate(49.50 392.80) rotate(-45) scale(1.05 1)" font-size="8.6" text-anchor="start" font-weight="normal" font-style="normal" fill="#231f20">Wild type</text>
<text transform="translate(69.50 392.50) rotate(-45)" font-size="8.6" text-anchor="start" font-weight="normal" font-style="normal" fill="#231f20">ΔWdr26-1</text>
<text transform="translate(88.50 392.50) rotate(-45)" font-size="8.6" text-anchor="start" font-weight="normal" font-style="normal" fill="#231f20">ΔWdr26-2</text>
<text transform="translate(133.80 345.60)" font-size="12.5" text-anchor="start" font-weight="bold" font-style="normal" fill="#000">G</text>
<line x1="165.00" y1="355.60" x2="165.00" y2="469.70" stroke="#231f20" stroke-width="1.1"/>
<line x1="164.50" y1="469.20" x2="257.00" y2="469.20" stroke="#231f20" stroke-width="1.1"/>
<line x1="162.40" y1="469.20" x2="165.00" y2="469.20" stroke="#231f20" stroke-width="0.9"/>
<text transform="translate(158.70 472.25) scale(0.99 1)" font-size="9.0" text-anchor="end" font-weight="normal" font-style="normal" fill="#231f20">0.0</text>
<line x1="162.40" y1="441.60" x2="165.00" y2="441.60" stroke="#231f20" stroke-width="0.9"/>
<text transform="translate(158.70 444.65) scale(0.99 1)" font-size="9.0" text-anchor="end" font-weight="normal" font-style="normal" fill="#231f20">0.5</text>
<line x1="162.40" y1="414.00" x2="165.00" y2="414.00" stroke="#231f20" stroke-width="0.9"/>
<text transform="translate(158.70 417.05) scale(0.99 1)" font-size="9.0" text-anchor="end" font-weight="normal" font-style="normal" fill="#231f20">1.0</text>
<line x1="162.40" y1="386.40" x2="165.00" y2="386.40" stroke="#231f20" stroke-width="0.9"/>
<text transform="translate(158.70 389.45) scale(0.99 1)" font-size="9.0" text-anchor="end" font-weight="normal" font-style="normal" fill="#231f20">1.5</text>
<line x1="162.40" y1="358.80" x2="165.00" y2="358.80" stroke="#231f20" stroke-width="0.9"/>
<text transform="translate(158.70 361.85) scale(0.99 1)" font-size="9.0" text-anchor="end" font-weight="normal" font-style="normal" fill="#231f20">2.0</text>
<line x1="185.30" y1="469.20" x2="185.30" y2="472.00" stroke="#231f20" stroke-width="0.9"/>
<line x1="211.50" y1="469.20" x2="211.50" y2="472.00" stroke="#231f20" stroke-width="0.9"/>
<line x1="237.60" y1="469.20" x2="237.60" y2="472.00" stroke="#231f20" stroke-width="0.9"/>
<rect x="178.10" y="386.40" width="14.40" height="82.80" fill="#8f96bd" stroke="#8088b4" stroke-width="0.5"/>
<rect x="204.30" y="420.07" width="14.40" height="49.13" fill="#e6c1b4" stroke="#dcb1a3" stroke-width="0.5"/>
<rect x="230.40" y="436.08" width="14.40" height="33.12" fill="#cf8374" stroke="#c47262" stroke-width="0.5"/>
<line x1="185.30" y1="392.47" x2="185.30" y2="380.33" stroke="#3f5598" stroke-width="1.0"/>
<line x1="181.50" y1="380.33" x2="189.10" y2="380.33" stroke="#3f5598" stroke-width="1.0"/>
<line x1="181.50" y1="392.47" x2="189.10" y2="392.47" stroke="#3f5598" stroke-width="1.0"/>
<line x1="211.50" y1="423.38" x2="211.50" y2="416.76" stroke="#b80a3e" stroke-width="1.0"/>
<line x1="207.70" y1="416.76" x2="215.30" y2="416.76" stroke="#b80a3e" stroke-width="1.0"/>
<line x1="207.70" y1="423.38" x2="215.30" y2="423.38" stroke="#b80a3e" stroke-width="1.0"/>
<line x1="237.60" y1="439.94" x2="237.60" y2="432.22" stroke="#b80a3e" stroke-width="1.0"/>
<line x1="233.80" y1="432.22" x2="241.40" y2="432.22" stroke="#b80a3e" stroke-width="1.0"/>
<line x1="233.80" y1="439.94" x2="241.40" y2="439.94" stroke="#b80a3e" stroke-width="1.0"/>
<circle cx="185.30" cy="373.15" r="1.85" fill="#fff" stroke="#3f5598" stroke-width="0.9"/>
<circle cx="183.00" cy="394.13" r="1.85" fill="#fff" stroke="#3f5598" stroke-width="0.9"/>
<circle cx="187.50" cy="394.13" r="1.85" fill="#fff" stroke="#3f5598" stroke-width="0.9"/>
<circle cx="211.50" cy="412.90" r="1.85" fill="#fff" stroke="#b80a3e" stroke-width="0.9"/>
<circle cx="209.50" cy="422.83" r="1.85" fill="#fff" stroke="#b80a3e" stroke-width="0.9"/>
<circle cx="213.50" cy="422.83" r="1.85" fill="#fff" stroke="#b80a3e" stroke-width="0.9"/>
<circle cx="237.60" cy="428.35" r="1.85" fill="#fff" stroke="#b80a3e" stroke-width="0.9"/>
<circle cx="237.60" cy="437.74" r="1.85" fill="#fff" stroke="#b80a3e" stroke-width="0.9"/>
<circle cx="237.60" cy="443.26" r="1.85" fill="#fff" stroke="#b80a3e" stroke-width="0.9"/>
<polygon points="211.50,405.10 212.06,406.03 213.12,406.27 212.40,407.09 212.50,408.18 211.50,407.75 210.50,408.18 210.60,407.09 209.88,406.27 210.94,406.03" fill="#111"/>
<polygon points="235.80,418.50 236.36,419.43 237.42,419.67 236.70,420.49 236.80,421.58 235.80,421.15 234.80,421.58 234.90,420.49 234.18,419.67 235.24,419.43" fill="#111"/>
<polygon points="239.40,418.50 239.96,419.43 241.02,419.67 240.30,420.49 240.40,421.58 239.40,421.15 238.40,421.58 238.50,420.49 237.78,419.67 238.84,419.43" fill="#111"/>
<text transform="translate(142.20 413.50) rotate(-90) scale(0.835 1)" font-size="10.0" text-anchor="middle" font-weight="normal" font-style="normal" fill="#231f20" stroke="#231f20" stroke-width="0.08">Heme content (nmol/mg)</text>
<text transform="translate(187.50 480.00) rotate(-45)" font-size="8.6" text-anchor="end" font-weight="normal" font-style="normal" fill="#231f20">Wild type</text>
<text transform="translate(213.70 480.00) rotate(-45)" font-size="8.6" text-anchor="end" font-weight="normal" font-style="normal" fill="#231f20">Δ<tspan font-style="italic">Wdr26-1</tspan></text>
<text transform="translate(239.80 480.00) rotate(-45)" font-size="8.6" text-anchor="end" font-weight="normal" font-style="normal" fill="#231f20">Δ<tspan font-style="italic">Wdr26-2</tspan></text>
<text transform="translate(293.50 345.40)" font-size="12.5" text-anchor="start" font-weight="bold" font-style="normal" fill="#000">H</text>
<text transform="translate(317.40 358.00) scale(1.09 1)" font-size="8.1" text-anchor="middle" font-weight="normal" font-style="normal" fill="#231f20">Wild type</text>
<text transform="translate(363.60 358.00) scale(1.05 1)" font-size="8.1" text-anchor="middle" font-weight="normal" font-style="normal" fill="#231f20">Δ<tspan font-style="italic">Wdr26-1</tspan></text>
<text transform="translate(412.00 358.00) scale(1.05 1)" font-size="8.1" text-anchor="middle" font-weight="normal" font-style="normal" fill="#231f20">Δ<tspan font-style="italic">Wdr26-2</tspan></text>
<clipPath id="hc0"><rect x="293.7" y="363.4" width="44.3" height="42.3"/></clipPath>
<rect x="293.70" y="363.40" width="44.30" height="42.30" fill="#e7e5e1" stroke="none" stroke-width="0.6"/>
<g clip-path="url(#hc0)" filter="url(#bl4)">
<circle cx="295.8" cy="364.3" r="1.9" fill="#dcc39a"/>
<circle cx="317.2" cy="364.3" r="1.9" fill="#8e3d12"/>
<circle cx="325.7" cy="364.0" r="1.9" fill="#8e3d12"/>
<circle cx="309.8" cy="368.2" r="1.9" fill="#bf7a30"/>
<circle cx="314.3" cy="370.1" r="1.9" fill="#a9561a"/>
<circle cx="325.7" cy="368.7" r="1.9" fill="#bf7a30"/>
<circle cx="330.9" cy="367.7" r="1.9" fill="#a9561a"/>
<circle cx="295.4" cy="371.1" r="1.9" fill="#a9561a"/>
<circle cx="300.7" cy="374.4" r="1.9" fill="#a9561a"/>
<circle cx="297.3" cy="376.8" r="1.9" fill="#8e3d12"/>
<circle cx="320.8" cy="373.9" r="1.9" fill="#8e3d12"/>
<circle cx="316.8" cy="376.8" r="1.9" fill="#a9561a"/>
<circle cx="323.2" cy="376.8" r="1.9" fill="#8e3d12"/>
<circle cx="336.4" cy="374.9" r="1.9" fill="#a9561a"/>
<circle cx="309.3" cy="379.2" r="1.9" fill="#bf7a30"/>
<circle cx="322.3" cy="380.2" r="1.9" fill="#bf7a30"/>
<circle cx="330.9" cy="379.2" r="1.9" fill="#a9561a"/>
<circle cx="295.4" cy="383.6" r="1.9" fill="#a9561a"/>
<circle cx="299.2" cy="382.6" r="1.9" fill="#a9561a"/>
<circle cx="308.3" cy="385.0" r="1.9" fill="#bf7a30"/>
<circle cx="317.5" cy="384.0" r="1.9" fill="#bf7a30"/>
<circle cx="332.4" cy="383.1" r="1.9" fill="#a9561a"/>
<circle cx="335.8" cy="385.5" r="1.9" fill="#a9561a"/>
<circle cx="302.6" cy="386.4" r="1.9" fill="#bf7a30"/>
<circle cx="313.2" cy="388.4" r="1.9" fill="#bf7a30"/>
<circle cx="294.9" cy="390.3" r="1.9" fill="#a9561a"/>
<circle cx="305.5" cy="390.8" r="1.9" fill="#a9561a"/>
<circle cx="317.5" cy="390.6" r="1.9" fill="#a9561a"/>
<circle cx="301.6" cy="393.7" r="1.9" fill="#bf7a30"/>
<circle cx="305.9" cy="394.1" r="1.9" fill="#a9561a"/>
<circle cx="297.3" cy="395.1" r="1.9" fill="#bf7a30"/>
<circle cx="312.2" cy="394.1" r="1.9" fill="#dcc39a"/>
<circle cx="321.8" cy="393.7" r="1.9" fill="#bf7a30"/>
<circle cx="330.5" cy="394.1" r="1.9" fill="#a9561a"/>
<circle cx="326.6" cy="396.1" r="1.9" fill="#bf7a30"/>
<circle cx="300.7" cy="397.5" r="1.9" fill="#a9561a"/>
<circle cx="314.6" cy="397.0" r="1.9" fill="#bf7a30"/>
<circle cx="318.4" cy="399.4" r="1.9" fill="#8e3d12"/>
<circle cx="295.8" cy="401.8" r="1.9" fill="#8e3d12"/>
<circle cx="316.5" cy="403.3" r="1.9" fill="#bf7a30"/>
<circle cx="312.2" cy="404.4" r="1.9" fill="#8e3d12"/>
<circle cx="335.8" cy="404.2" r="1.9" fill="#8e3d12"/>
<circle cx="337.7" cy="391.7" r="1.9" fill="#bf7a30"/>
</g>
<line x1="330.00" y1="403.50" x2="335.00" y2="403.50" stroke="#333" stroke-width="1.0"/>
<clipPath id="hc1"><rect x="341.4" y="363.4" width="44.6" height="42.3"/></clipPath>
<rect x="341.40" y="363.40" width="44.60" height="42.30" fill="#e7e5e1" stroke="none" stroke-width="0.6"/>
<g clip-path="url(#hc1)" filter="url(#bl4)">
<circle cx="343.8" cy="366.9" r="1.9" fill="#bf7a30"/>
<circle cx="349.6" cy="368.7" r="1.9" fill="#bf7a30"/>
<circle cx="353.9" cy="369.4" r="1.9" fill="#a9561a"/>
<circle cx="357.8" cy="367.2" r="1.9" fill="#bf7a30"/>
<circle cx="371.0" cy="366.5" r="1.9" fill="#bf7a30"/>
<circle cx="383.8" cy="372.5" r="1.9" fill="#bf7a30"/>
<circle cx="341.9" cy="374.4" r="1.9" fill="#bf7a30"/>
<circle cx="345.8" cy="375.2" r="1.9" fill="#dcc39a"/>
<circle cx="354.2" cy="373.5" r="1.9" fill="#a9561a"/>
<circle cx="358.3" cy="374.9" r="1.9" fill="#cfa066"/>
<circle cx="364.8" cy="377.8" r="1.9" fill="#dcc39a"/>
<circle cx="373.2" cy="376.2" r="1.9" fill="#bf7a30"/>
<circle cx="370.8" cy="378.8" r="1.9" fill="#bf7a30"/>
<circle cx="343.4" cy="379.2" r="1.9" fill="#bf7a30"/>
<circle cx="375.6" cy="380.7" r="1.9" fill="#bf7a30"/>
<circle cx="379.9" cy="382.6" r="1.9" fill="#bf7a30"/>
<circle cx="384.7" cy="382.6" r="1.9" fill="#bf7a30"/>
<circle cx="348.7" cy="383.1" r="1.9" fill="#a9561a"/>
<circle cx="353.0" cy="383.1" r="1.9" fill="#bf7a30"/>
<circle cx="363.6" cy="385.5" r="1.9" fill="#bf7a30"/>
<circle cx="368.8" cy="385.2" r="1.9" fill="#bf7a30"/>
<circle cx="341.9" cy="385.8" r="1.9" fill="#bf7a30"/>
<circle cx="357.8" cy="387.4" r="1.9" fill="#e6d9c0"/>
<circle cx="348.7" cy="387.4" r="1.9" fill="#bf7a30"/>
<circle cx="372.7" cy="390.3" r="1.9" fill="#a9561a"/>
<circle cx="380.2" cy="390.3" r="1.9" fill="#bf7a30"/>
<circle cx="384.7" cy="387.9" r="1.9" fill="#cfa066"/>
<circle cx="343.7" cy="392.2" r="1.9" fill="#bf7a30"/>
<circle cx="353.0" cy="391.7" r="1.9" fill="#cfa066"/>
<circle cx="358.1" cy="393.2" r="1.9" fill="#bf7a30"/>
<circle cx="348.7" cy="395.1" r="1.9" fill="#bf7a30"/>
<circle cx="384.7" cy="394.1" r="1.9" fill="#bf7a30"/>
<circle cx="361.2" cy="396.3" r="1.9" fill="#bf7a30"/>
<circle cx="344.3" cy="396.5" r="1.9" fill="#bf7a30"/>
<circle cx="354.4" cy="397.3" r="1.9" fill="#bf7a30"/>
<circle cx="367.9" cy="398.0" r="1.9" fill="#bf7a30"/>
<circle cx="371.7" cy="399.4" r="1.9" fill="#dcc39a"/>
<circle cx="363.6" cy="399.9" r="1.9" fill="#bf7a30"/>
<circle cx="381.8" cy="397.5" r="1.9" fill="#cfa066"/>
<circle cx="347.7" cy="400.9" r="1.9" fill="#cfa066"/>
<circle cx="368.4" cy="402.3" r="1.9" fill="#bf7a30"/>
<circle cx="378.5" cy="402.3" r="1.9" fill="#bf7a30"/>
<circle cx="353.5" cy="404.2" r="1.9" fill="#cfa066"/>
<circle cx="343.8" cy="404.7" r="1.9" fill="#bf7a30"/>
<circle cx="373.7" cy="404.7" r="1.9" fill="#cfa066"/>
<circle cx="365.5" cy="405.2" r="1.9" fill="#bf7a30"/>
<circle cx="384.7" cy="403.8" r="1.9" fill="#bf7a30"/>
<circle cx="378.5" cy="363.8" r="1.9" fill="#dcc39a"/>
<circle cx="351.5" cy="363.7" r="1.9" fill="#dcc39a"/>
</g>
<line x1="378.00" y1="403.50" x2="383.00" y2="403.50" stroke="#333" stroke-width="1.0"/>
<clipPath id="hc2"><rect x="389.1" y="363.4" width="44.5" height="42.3"/></clipPath>
<rect x="389.10" y="363.40" width="44.50" height="42.30" fill="#e7e5e1" stroke="none" stroke-width="0.6"/>
<g clip-path="url(#hc2)" filter="url(#bl4)">
<circle cx="397.4" cy="368.2" r="2.1" fill="#c98f4a"/>
<circle cx="408.0" cy="368.8" r="2.1" fill="#c98f4a"/>
<circle cx="408.3" cy="364.0" r="2.1" fill="#dcc39a"/>
<circle cx="421.1" cy="364.6" r="2.1" fill="#cfa066"/>
<circle cx="418.2" cy="368.2" r="2.1" fill="#cfa066"/>
<circle cx="421.8" cy="369.4" r="2.1" fill="#c98f4a"/>
<circle cx="414.7" cy="370.6" r="2.1" fill="#c98f4a"/>
<circle cx="425.9" cy="366.7" r="2.1" fill="#e6d9c0"/>
<circle cx="430.3" cy="370.1" r="2.1" fill="#c98f4a"/>
<circle cx="392.6" cy="373.5" r="2.1" fill="#c98f4a"/>
<circle cx="398.3" cy="374.9" r="2.1" fill="#c98f4a"/>
<circle cx="405.1" cy="376.3" r="2.1" fill="#c98f4a"/>
<circle cx="411.0" cy="374.4" r="2.1" fill="#c98f4a"/>
<circle cx="422.8" cy="375.6" r="2.1" fill="#bf7a30"/>
<circle cx="396.6" cy="378.3" r="2.1" fill="#c98f4a"/>
<circle cx="408.6" cy="379.2" r="2.1" fill="#c98f4a"/>
<circle cx="413.7" cy="377.8" r="2.1" fill="#dcc39a"/>
<circle cx="419.7" cy="381.0" r="2.1" fill="#dcc39a"/>
<circle cx="390.8" cy="382.6" r="2.1" fill="#dcc39a"/>
<circle cx="396.4" cy="383.6" r="2.1" fill="#c98f4a"/>
<circle cx="409.6" cy="382.6" r="2.1" fill="#dcc39a"/>
<circle cx="413.2" cy="384.5" r="2.1" fill="#c98f4a"/>
<circle cx="409.9" cy="386.2" r="2.1" fill="#c98f4a"/>
<circle cx="430.5" cy="383.1" r="2.1" fill="#dcc39a"/>
<circle cx="392.8" cy="387.4" r="2.1" fill="#cfa066"/>
<circle cx="397.4" cy="388.8" r="2.1" fill="#c98f4a"/>
<circle cx="417.6" cy="387.7" r="2.1" fill="#dcc39a"/>
<circle cx="423.7" cy="388.1" r="2.1" fill="#dcc39a"/>
<circle cx="427.2" cy="386.9" r="2.1" fill="#dcc39a"/>
<circle cx="394.2" cy="392.2" r="2.1" fill="#c98f4a"/>
<circle cx="405.5" cy="390.8" r="2.1" fill="#c98f4a"/>
<circle cx="428.8" cy="390.8" r="2.1" fill="#c98f4a"/>
<circle cx="393.2" cy="395.6" r="2.1" fill="#dcc39a"/>
<circle cx="405.8" cy="395.4" r="2.1" fill="#c98f4a"/>
<circle cx="399.7" cy="398.3" r="2.1" fill="#bf7a30"/>
<circle cx="410.8" cy="397.3" r="2.1" fill="#c98f4a"/>
<circle cx="418.7" cy="397.0" r="2.1" fill="#dcc39a"/>
<circle cx="429.3" cy="396.1" r="2.1" fill="#cfa066"/>
<circle cx="404.3" cy="399.4" r="2.1" fill="#c98f4a"/>
<circle cx="431.7" cy="399.9" r="2.1" fill="#c98f4a"/>
<circle cx="407.2" cy="403.8" r="2.1" fill="#c98f4a"/>
<circle cx="414.4" cy="403.8" r="2.1" fill="#c98f4a"/>
<circle cx="420.2" cy="403.1" r="2.1" fill="#dcc39a"/>
<circle cx="432.2" cy="404.7" r="2.1" fill="#c98f4a"/>
</g>
<line x1="425.60" y1="403.50" x2="430.60" y2="403.50" stroke="#333" stroke-width="1.0"/>
<rect x="295" y="413.9" width="2.0" height="8.8" rx="0.3" fill="#000"/>
<text transform="translate(294.00 435.50) scale(1.09 1)" font-size="8.1" text-anchor="start" font-weight="normal" font-style="normal" fill="#231f20">5′</text>
<text transform="translate(480.30 435.50) scale(1.09 1)" font-size="8.1" text-anchor="start" font-weight="normal" font-style="normal" fill="#231f20">3′</text>
<line x1="297.00" y1="443.20" x2="466.00" y2="443.20" stroke="#111" stroke-width="1.0"/>
<rect x="305.80" y="437.50" width="10.50" height="11.20" fill="#000" stroke="none" stroke-width="0.6"/>
<path d="M309.4 434.3 h2.4 l-1.2 1.9z M313.8 434.3 h2.4 l-1.2 1.9z" fill="#000"/>
<rect x="334.20" y="438.10" width="2.30" height="10.40" fill="#000" stroke="none" stroke-width="0.6"/>
<rect x="353.80" y="438.10" width="0.90" height="10.40" fill="#000" stroke="none" stroke-width="0.6"/>
<rect x="371.10" y="438.10" width="1.70" height="10.40" fill="#000" stroke="none" stroke-width="0.6"/>
<rect x="373.40" y="438.10" width="1.40" height="10.40" fill="#000" stroke="none" stroke-width="0.6"/>
<rect x="375.20" y="438.10" width="1.20" height="10.40" fill="#000" stroke="none" stroke-width="0.6"/>
<rect x="378.50" y="438.10" width="1.80" height="10.40" fill="#000" stroke="none" stroke-width="0.6"/>
<rect x="381.20" y="438.10" width="2.10" height="10.40" fill="#000" stroke="none" stroke-width="0.6"/>
<rect x="398.80" y="438.10" width="2.30" height="10.40" fill="#000" stroke="none" stroke-width="0.6"/>
<rect x="408.00" y="438.10" width="1.80" height="10.40" fill="#000" stroke="none" stroke-width="0.6"/>
<rect x="416.50" y="438.10" width="1.30" height="10.40" fill="#000" stroke="none" stroke-width="0.6"/>
<rect x="418.80" y="438.10" width="1.30" height="10.40" fill="#000" stroke="none" stroke-width="0.6"/>
<rect x="435.70" y="438.10" width="1.80" height="10.40" fill="#000" stroke="none" stroke-width="0.6"/>
<rect x="438.50" y="438.10" width="1.80" height="10.40" fill="#000" stroke="none" stroke-width="0.6"/>
<rect x="466.00" y="440.00" width="10.80" height="7.00" fill="#fff" stroke="#111" stroke-width="0.9"/>
<line x1="466.00" y1="438.00" x2="466.00" y2="448.50" stroke="#111" stroke-width="1.0"/>
<text transform="translate(298.50 457.00) scale(1.09 1)" font-size="8.1" text-anchor="start" font-weight="normal" font-style="normal" fill="#231f20">F</text>
<text transform="translate(325.50 457.00) scale(1.09 1)" font-size="8.1" text-anchor="start" font-weight="normal" font-style="normal" fill="#231f20">R</text>
<path d="M303.5 451.2 h4.6" stroke="#111" stroke-width="0.8"/><path d="M309 451.2 l-1.8 -1 v2z" fill="#111"/>
<path d="M318.3 451.2 h4.6" stroke="#111" stroke-width="0.8"/><path d="M317.5 451.2 l1.8 -1 v2z" fill="#111"/>
<text transform="translate(349.30 463.00) scale(1.07 1)" font-size="8.1" text-anchor="start" font-weight="normal" font-style="normal" fill="#231f20">wild type</text>
<text transform="translate(390.20 463.00) scale(1.02 1)" font-size="8.1" text-anchor="start" font-weight="normal" font-style="normal" fill="#231f20"><tspan font-style="italic">wdr26b</tspan><tspan font-size="4.6" dy="-3.2">-/-</tspan></text>
<rect x="362.90" y="468.00" width="46.40" height="34.60" fill="url(#gelg)" stroke="none" stroke-width="0.6"/>
<g filter="url(#bl2)"><rect x="367.2" y="480.2" width="15.1" height="2.2" rx="1" fill="#151515"/><rect x="389.7" y="486.3" width="15.1" height="2.2" rx="1" fill="#151515"/></g>
<text transform="translate(362.30 484.60) scale(1.02 1)" font-size="8.1" text-anchor="end" font-weight="normal" font-style="normal" fill="#231f20">500bp–</text>
<text transform="translate(362.30 495.00) scale(1.02 1)" font-size="8.1" text-anchor="end" font-weight="normal" font-style="normal" fill="#231f20">300bp–</text>
<text transform="translate(7.60 527.30)" font-size="12.5" text-anchor="start" font-weight="bold" font-style="normal" fill="#000">J</text>
<line x1="41.10" y1="534.70" x2="41.10" y2="648.60" stroke="#231f20" stroke-width="1.1"/>
<line x1="40.60" y1="648.10" x2="110.60" y2="648.10" stroke="#231f20" stroke-width="1.1"/>
<line x1="38.50" y1="648.10" x2="41.10" y2="648.10" stroke="#231f20" stroke-width="0.9"/>
<text transform="translate(34.80 651.15) scale(0.99 1)" font-size="9.0" text-anchor="end" font-weight="normal" font-style="normal" fill="#231f20">0</text>
<line x1="38.50" y1="620.55" x2="41.10" y2="620.55" stroke="#231f20" stroke-width="0.9"/>
<text transform="translate(34.80 623.60) scale(0.99 1)" font-size="9.0" text-anchor="end" font-weight="normal" font-style="normal" fill="#231f20">5</text>
<line x1="38.50" y1="593.00" x2="41.10" y2="593.00" stroke="#231f20" stroke-width="0.9"/>
<text transform="translate(34.80 596.05) scale(0.99 1)" font-size="9.0" text-anchor="end" font-weight="normal" font-style="normal" fill="#231f20">10</text>
<line x1="38.50" y1="565.45" x2="41.10" y2="565.45" stroke="#231f20" stroke-width="0.9"/>
<text transform="translate(34.80 568.50) scale(0.99 1)" font-size="9.0" text-anchor="end" font-weight="normal" font-style="normal" fill="#231f20">15</text>
<line x1="38.50" y1="537.90" x2="41.10" y2="537.90" stroke="#231f20" stroke-width="0.9"/>
<text transform="translate(34.80 540.95) scale(0.99 1)" font-size="9.0" text-anchor="end" font-weight="normal" font-style="normal" fill="#231f20">20</text>
<line x1="62.00" y1="648.10" x2="62.00" y2="650.90" stroke="#231f20" stroke-width="0.9"/>
<line x1="89.60" y1="648.10" x2="89.60" y2="650.90" stroke="#231f20" stroke-width="0.9"/>
<rect x="54.70" y="570.96" width="14.60" height="77.14" fill="#8f96bd" stroke="#8088b4" stroke-width="0.5"/>
<rect x="82.30" y="625.95" width="14.60" height="22.15" fill="#cf8374" stroke="#c47262" stroke-width="0.5"/>
<line x1="62.00" y1="574.82" x2="62.00" y2="567.10" stroke="#3f5598" stroke-width="1.0"/>
<line x1="58.20" y1="567.10" x2="65.80" y2="567.10" stroke="#3f5598" stroke-width="1.0"/>
<line x1="58.20" y1="574.82" x2="65.80" y2="574.82" stroke="#3f5598" stroke-width="1.0"/>
<line x1="89.60" y1="628.26" x2="89.60" y2="623.58" stroke="#b80a3e" stroke-width="1.0"/>
<line x1="85.80" y1="623.58" x2="93.40" y2="623.58" stroke="#b80a3e" stroke-width="1.0"/>
<line x1="85.80" y1="628.26" x2="93.40" y2="628.26" stroke="#b80a3e" stroke-width="1.0"/>
<circle cx="62.40" cy="555.80" r="1.85" fill="#fff" stroke="#3f5598" stroke-width="0.9"/>
<circle cx="62.20" cy="562.00" r="1.85" fill="#fff" stroke="#3f5598" stroke-width="0.9"/>
<circle cx="62.20" cy="571.80" r="1.85" fill="#fff" stroke="#3f5598" stroke-width="0.9"/>
<circle cx="57.70" cy="576.50" r="1.85" fill="#fff" stroke="#3f5598" stroke-width="0.9"/>
<circle cx="66.70" cy="579.00" r="1.85" fill="#fff" stroke="#3f5598" stroke-width="0.9"/>
<circle cx="61.80" cy="581.20" r="1.85" fill="#fff" stroke="#3f5598" stroke-width="0.9"/>
<circle cx="90.00" cy="623.20" r="1.85" fill="#fff" stroke="#b80a3e" stroke-width="0.9"/>
<circle cx="85.00" cy="624.70" r="1.85" fill="#fff" stroke="#b80a3e" stroke-width="0.9"/>
<circle cx="95.00" cy="626.20" r="1.85" fill="#fff" stroke="#b80a3e" stroke-width="0.9"/>
<circle cx="87.80" cy="627.50" r="1.85" fill="#fff" stroke="#b80a3e" stroke-width="0.9"/>
<circle cx="91.50" cy="628.00" r="1.85" fill="#fff" stroke="#b80a3e" stroke-width="0.9"/>
<circle cx="89.70" cy="633.60" r="1.85" fill="#fff" stroke="#b80a3e" stroke-width="0.9"/>
<polygon points="88.20,612.10 88.76,613.03 89.82,613.27 89.10,614.09 89.20,615.18 88.20,614.75 87.20,615.18 87.30,614.09 86.58,613.27 87.64,613.03" fill="#111"/>
<polygon points="91.80,612.10 92.36,613.03 93.42,613.27 92.70,614.09 92.80,615.18 91.80,614.75 90.80,615.18 90.90,614.09 90.18,613.27 91.24,613.03" fill="#111"/>
<text transform="translate(20.00 591.30) rotate(-90) scale(0.855 1)" font-size="10.0" text-anchor="middle" font-weight="normal" font-style="normal" fill="#231f20" stroke="#231f20" stroke-width="0.08">Blood cell number (x10<tspan font-size="6" dy="-3">5</tspan><tspan dy="3">/μl)</tspan></text>
<text transform="translate(66.30 658.30) rotate(-45) scale(1.03 1)" font-size="8.6" text-anchor="end" font-weight="normal" font-style="normal" fill="#231f20">wild type</text>
<text transform="translate(92.00 658.30) rotate(-45) scale(1.03 1)" font-size="8.6" text-anchor="end" font-weight="normal" font-style="normal" fill="#231f20">wdr26b<tspan font-size="4.6" dy="-3.2">-/-</tspan></text>
<text transform="translate(121.00 527.30)" font-size="12.5" text-anchor="start" font-weight="bold" font-style="normal" fill="#000">K</text>
<line x1="146.60" y1="534.70" x2="146.60" y2="648.60" stroke="#231f20" stroke-width="1.1"/>
<line x1="146.10" y1="648.10" x2="215.00" y2="648.10" stroke="#231f20" stroke-width="1.1"/>
<line x1="144.00" y1="648.10" x2="146.60" y2="648.10" stroke="#231f20" stroke-width="0.9"/>
<text transform="translate(140.30 651.15) scale(0.99 1)" font-size="9.0" text-anchor="end" font-weight="normal" font-style="normal" fill="#231f20">0</text>
<line x1="144.00" y1="620.55" x2="146.60" y2="620.55" stroke="#231f20" stroke-width="0.9"/>
<text transform="translate(140.30 623.60) scale(0.99 1)" font-size="9.0" text-anchor="end" font-weight="normal" font-style="normal" fill="#231f20">2</text>
<line x1="144.00" y1="593.00" x2="146.60" y2="593.00" stroke="#231f20" stroke-width="0.9"/>
<text transform="translate(140.30 596.05) scale(0.99 1)" font-size="9.0" text-anchor="end" font-weight="normal" font-style="normal" fill="#231f20">4</text>
<line x1="144.00" y1="565.45" x2="146.60" y2="565.45" stroke="#231f20" stroke-width="0.9"/>
<text transform="translate(140.30 568.50) scale(0.99 1)" font-size="9.0" text-anchor="end" font-weight="normal" font-style="normal" fill="#231f20">6</text>
<line x1="144.00" y1="537.90" x2="146.60" y2="537.90" stroke="#231f20" stroke-width="0.9"/>
<text transform="translate(140.30 540.95) scale(0.99 1)" font-size="9.0" text-anchor="end" font-weight="normal" font-style="normal" fill="#231f20">8</text>
<line x1="166.70" y1="648.10" x2="166.70" y2="650.90" stroke="#231f20" stroke-width="0.9"/>
<line x1="194.50" y1="648.10" x2="194.50" y2="650.90" stroke="#231f20" stroke-width="0.9"/>
<rect x="159.40" y="579.23" width="14.60" height="68.88" fill="#8f96bd" stroke="#8088b4" stroke-width="0.5"/>
<rect x="187.20" y="621.24" width="14.60" height="26.86" fill="#cf8374" stroke="#c47262" stroke-width="0.5"/>
<line x1="166.70" y1="586.11" x2="166.70" y2="573.03" stroke="#3f5598" stroke-width="1.0"/>
<line x1="162.90" y1="573.03" x2="170.50" y2="573.03" stroke="#3f5598" stroke-width="1.0"/>
<line x1="162.90" y1="586.11" x2="170.50" y2="586.11" stroke="#3f5598" stroke-width="1.0"/>
<line x1="194.50" y1="624.68" x2="194.50" y2="617.79" stroke="#b80a3e" stroke-width="1.0"/>
<line x1="190.70" y1="617.79" x2="198.30" y2="617.79" stroke="#b80a3e" stroke-width="1.0"/>
<line x1="190.70" y1="624.68" x2="198.30" y2="624.68" stroke="#b80a3e" stroke-width="1.0"/>
<circle cx="166.70" cy="551.70" r="1.85" fill="#fff" stroke="#3f5598" stroke-width="0.9"/>
<circle cx="169.20" cy="574.60" r="1.85" fill="#fff" stroke="#3f5598" stroke-width="0.9"/>
<circle cx="163.90" cy="578.60" r="1.85" fill="#fff" stroke="#3f5598" stroke-width="0.9"/>
<circle cx="166.70" cy="585.90" r="1.85" fill="#fff" stroke="#3f5598" stroke-width="0.9"/>
<circle cx="169.20" cy="591.60" r="1.85" fill="#fff" stroke="#3f5598" stroke-width="0.9"/>
<circle cx="164.30" cy="596.30" r="1.85" fill="#fff" stroke="#3f5598" stroke-width="0.9"/>
<circle cx="194.40" cy="606.30" r="1.85" fill="#fff" stroke="#b80a3e" stroke-width="0.9"/>
<circle cx="192.10" cy="618.50" r="1.85" fill="#fff" stroke="#b80a3e" stroke-width="0.9"/>
<circle cx="196.80" cy="618.50" r="1.85" fill="#fff" stroke="#b80a3e" stroke-width="0.9"/>
<circle cx="194.40" cy="626.40" r="1.85" fill="#fff" stroke="#b80a3e" stroke-width="0.9"/>
<circle cx="196.80" cy="627.90" r="1.85" fill="#fff" stroke="#b80a3e" stroke-width="0.9"/>
<circle cx="191.80" cy="632.60" r="1.85" fill="#fff" stroke="#b80a3e" stroke-width="0.9"/>
<polygon points="192.60,597.00 193.16,597.93 194.22,598.17 193.50,598.99 193.60,600.08 192.60,599.65 191.60,600.08 191.70,598.99 190.98,598.17 192.04,597.93" fill="#111"/>
<polygon points="196.20,597.00 196.76,597.93 197.82,598.17 197.10,598.99 197.20,600.08 196.20,599.65 195.20,600.08 195.30,598.99 194.58,598.17 195.64,597.93" fill="#111"/>
<text transform="translate(130.10 590.70) rotate(-90) scale(0.814 1)" font-size="10.0" text-anchor="middle" font-weight="normal" font-style="normal" fill="#231f20" stroke="#231f20" stroke-width="0.08">Blood heme content (mM)</text>
<text transform="translate(171.00 658.30) rotate(-45) scale(1.03 1)" font-size="8.6" text-anchor="end" font-weight="normal" font-style="normal" fill="#231f20">wild type</text>
<text transform="translate(196.90 658.30) rotate(-45) scale(1.03 1)" font-size="8.6" text-anchor="end" font-weight="normal" font-style="normal" fill="#231f20"><tspan font-style="italic">wdr26b</tspan><tspan font-size="4.6" dy="-3.2">-/-</tspan></text>
<text transform="translate(225.50 527.30)" font-size="12.5" text-anchor="start" font-weight="bold" font-style="normal" fill="#000">L</text>
<line x1="267.60" y1="534.70" x2="267.60" y2="648.50" stroke="#231f20" stroke-width="1.1"/>
<line x1="267.10" y1="648.00" x2="336.50" y2="648.00" stroke="#231f20" stroke-width="1.1"/>
<line x1="265.00" y1="648.00" x2="267.60" y2="648.00" stroke="#231f20" stroke-width="0.9"/>
<text transform="translate(261.30 651.05) scale(0.99 1)" font-size="9.0" text-anchor="end" font-weight="normal" font-style="normal" fill="#231f20">0</text>
<line x1="265.00" y1="611.30" x2="267.60" y2="611.30" stroke="#231f20" stroke-width="0.9"/>
<text transform="translate(261.30 614.35) scale(0.99 1)" font-size="9.0" text-anchor="end" font-weight="normal" font-style="normal" fill="#231f20">10</text>
<line x1="265.00" y1="574.60" x2="267.60" y2="574.60" stroke="#231f20" stroke-width="0.9"/>
<text transform="translate(261.30 577.65) scale(0.99 1)" font-size="9.0" text-anchor="end" font-weight="normal" font-style="normal" fill="#231f20">20</text>
<line x1="265.00" y1="537.90" x2="267.60" y2="537.90" stroke="#231f20" stroke-width="0.9"/>
<text transform="translate(261.30 540.95) scale(0.99 1)" font-size="9.0" text-anchor="end" font-weight="normal" font-style="normal" fill="#231f20">30</text>
<line x1="288.50" y1="648.00" x2="288.50" y2="650.80" stroke="#231f20" stroke-width="0.9"/>
<line x1="316.00" y1="648.00" x2="316.00" y2="650.80" stroke="#231f20" stroke-width="0.9"/>
<rect x="281.30" y="563.96" width="14.40" height="84.04" fill="#8f96bd" stroke="#8088b4" stroke-width="0.5"/>
<rect x="308.80" y="610.20" width="14.40" height="37.80" fill="#cf8374" stroke="#c47262" stroke-width="0.5"/>
<line x1="288.50" y1="569.46" x2="288.50" y2="558.09" stroke="#3f5598" stroke-width="1.0"/>
<line x1="284.70" y1="558.09" x2="292.30" y2="558.09" stroke="#3f5598" stroke-width="1.0"/>
<line x1="284.70" y1="569.46" x2="292.30" y2="569.46" stroke="#3f5598" stroke-width="1.0"/>
<line x1="316.00" y1="612.77" x2="316.00" y2="607.63" stroke="#b80a3e" stroke-width="1.0"/>
<line x1="312.20" y1="607.63" x2="319.80" y2="607.63" stroke="#b80a3e" stroke-width="1.0"/>
<line x1="312.20" y1="612.77" x2="319.80" y2="612.77" stroke="#b80a3e" stroke-width="1.0"/>
<circle cx="288.30" cy="545.00" r="1.85" fill="#fff" stroke="#3f5598" stroke-width="0.9"/>
<circle cx="288.30" cy="559.50" r="1.85" fill="#fff" stroke="#3f5598" stroke-width="0.9"/>
<circle cx="288.50" cy="569.50" r="1.85" fill="#fff" stroke="#3f5598" stroke-width="0.9"/>
<circle cx="290.70" cy="572.30" r="1.85" fill="#fff" stroke="#3f5598" stroke-width="0.9"/>
<circle cx="285.80" cy="576.50" r="1.85" fill="#fff" stroke="#3f5598" stroke-width="0.9"/>
<circle cx="313.70" cy="603.00" r="1.85" fill="#fff" stroke="#b80a3e" stroke-width="0.9"/>
<circle cx="318.40" cy="605.60" r="1.85" fill="#fff" stroke="#b80a3e" stroke-width="0.9"/>
<circle cx="311.20" cy="613.10" r="1.85" fill="#fff" stroke="#b80a3e" stroke-width="0.9"/>
<circle cx="320.20" cy="615.00" r="1.85" fill="#fff" stroke="#b80a3e" stroke-width="0.9"/>
<circle cx="316.10" cy="616.90" r="1.85" fill="#fff" stroke="#b80a3e" stroke-width="0.9"/>
<circle cx="315.50" cy="611.30" r="1.85" fill="#fff" stroke="#b80a3e" stroke-width="0.9"/>
<polygon points="314.30,593.20 314.86,594.13 315.92,594.37 315.20,595.19 315.30,596.28 314.30,595.85 313.30,596.28 313.40,595.19 312.68,594.37 313.74,594.13" fill="#111"/>
<polygon points="317.90,593.20 318.46,594.13 319.52,594.37 318.80,595.19 318.90,596.28 317.90,595.85 316.90,596.28 317.00,595.19 316.28,594.37 317.34,594.13" fill="#111"/>
<text transform="translate(234.50 591.30) rotate(-90) scale(0.813 1)" font-size="10.0" text-anchor="middle" font-weight="normal" font-style="normal" fill="#231f20" stroke="#231f20" stroke-width="0.08">Kidney heme content</text>
<text transform="translate(246.30 591.40) rotate(-90) scale(0.86 1)" font-size="10.0" text-anchor="middle" font-weight="normal" font-style="normal" fill="#231f20" stroke="#231f20" stroke-width="0.08">(nmol/mg protein)</text>
<text transform="translate(292.80 658.30) rotate(-45) scale(1.03 1)" font-size="8.6" text-anchor="end" font-weight="normal" font-style="normal" fill="#231f20">wild type</text>
<text transform="translate(318.40 658.30) rotate(-45) scale(1.03 1)" font-size="8.6" text-anchor="end" font-weight="normal" font-style="normal" fill="#231f20">wdr26b<tspan font-size="4.6" dy="-3.2">-/-</tspan></text>
<text transform="translate(347.00 527.70)" font-size="12.5" text-anchor="start" font-weight="bold" font-style="normal" fill="#000">M</text>
<line x1="381.60" y1="537.20" x2="381.60" y2="648.80" stroke="#231f20" stroke-width="1.1"/>
<line x1="381.10" y1="648.30" x2="505.70" y2="648.30" stroke="#231f20" stroke-width="1.1"/>
<line x1="379.00" y1="648.30" x2="381.60" y2="648.30" stroke="#231f20" stroke-width="0.9"/>
<text transform="translate(375.30 651.35) scale(0.99 1)" font-size="9.0" text-anchor="end" font-weight="normal" font-style="normal" fill="#231f20">0</text>
<line x1="379.00" y1="598.10" x2="381.60" y2="598.10" stroke="#231f20" stroke-width="0.9"/>
<text transform="translate(375.30 601.15) scale(0.99 1)" font-size="9.0" text-anchor="end" font-weight="normal" font-style="normal" fill="#231f20">50</text>
<line x1="379.00" y1="547.90" x2="381.60" y2="547.90" stroke="#231f20" stroke-width="0.9"/>
<text transform="translate(375.30 550.95) scale(0.99 1)" font-size="9.0" text-anchor="end" font-weight="normal" font-style="normal" fill="#231f20">100</text>
<line x1="382.00" y1="648.30" x2="382.00" y2="650.90" stroke="#231f20" stroke-width="0.9"/>
<text transform="translate(382.00 661.30) scale(0.99 1)" font-size="9.0" text-anchor="middle" font-weight="normal" font-style="normal" fill="#231f20">80</text>
<line x1="401.00" y1="648.30" x2="401.00" y2="650.90" stroke="#231f20" stroke-width="0.9"/>
<text transform="translate(401.00 661.30) scale(0.99 1)" font-size="9.0" text-anchor="middle" font-weight="normal" font-style="normal" fill="#231f20">100</text>
<line x1="420.00" y1="648.30" x2="420.00" y2="650.90" stroke="#231f20" stroke-width="0.9"/>
<text transform="translate(420.00 661.30) scale(0.99 1)" font-size="9.0" text-anchor="middle" font-weight="normal" font-style="normal" fill="#231f20">120</text>
<line x1="439.00" y1="648.30" x2="439.00" y2="650.90" stroke="#231f20" stroke-width="0.9"/>
<text transform="translate(439.00 661.30) scale(0.99 1)" font-size="9.0" text-anchor="middle" font-weight="normal" font-style="normal" fill="#231f20">140</text>
<line x1="458.00" y1="648.30" x2="458.00" y2="650.90" stroke="#231f20" stroke-width="0.9"/>
<text transform="translate(458.00 661.30) scale(0.99 1)" font-size="9.0" text-anchor="middle" font-weight="normal" font-style="normal" fill="#231f20">160</text>
<line x1="477.00" y1="648.30" x2="477.00" y2="650.90" stroke="#231f20" stroke-width="0.9"/>
<text transform="translate(477.00 661.30) scale(0.99 1)" font-size="9.0" text-anchor="middle" font-weight="normal" font-style="normal" fill="#231f20">180</text>
<line x1="496.00" y1="648.30" x2="496.00" y2="650.90" stroke="#231f20" stroke-width="0.9"/>
<text transform="translate(496.00 661.30) scale(0.99 1)" font-size="9.0" text-anchor="middle" font-weight="normal" font-style="normal" fill="#231f20">200</text>
<text transform="translate(443.90 674.20) scale(1.06 1)" font-size="8.1" text-anchor="middle" font-weight="normal" font-style="normal" fill="#231f20">Time (min)</text>
<text transform="translate(356.50 592.80) rotate(-90) scale(0.8 1)" font-size="10.0" text-anchor="middle" font-weight="normal" font-style="normal" fill="#231f20">Percent survival</text>
<polyline fill="none" stroke="#4b679f" stroke-width="1.0" points="382.00,547.90 435.96,547.90 435.96,564.67 450.12,564.67 450.12,581.33 469.02,581.33 469.02,598.10 471.59,598.10 471.59,614.87 484.31,614.87 484.31,631.53 494.00,631.53 494.00,648.30"/>
<polyline fill="none" stroke="#c42a4d" stroke-width="1.0" points="382.00,547.90 418.10,547.90 418.10,564.67 418.10,581.33 424.08,581.33 424.08,598.10 435.20,598.10 435.20,614.87 459.43,614.87 459.43,631.53 460.19,631.53 460.19,648.30"/>
<rect x="434.61" y="563.32" width="2.7" height="2.7" fill="#fff" stroke="#4b679f" stroke-width="0.75"/>
<rect x="448.76" y="579.98" width="2.7" height="2.7" fill="#fff" stroke="#4b679f" stroke-width="0.75"/>
<rect x="467.67" y="596.75" width="2.7" height="2.7" fill="#fff" stroke="#4b679f" stroke-width="0.75"/>
<rect x="470.24" y="613.52" width="2.7" height="2.7" fill="#fff" stroke="#4b679f" stroke-width="0.75"/>
<rect x="482.96" y="630.18" width="2.7" height="2.7" fill="#fff" stroke="#4b679f" stroke-width="0.75"/>
<rect x="492.65" y="646.95" width="2.7" height="2.7" fill="#fff" stroke="#4b679f" stroke-width="0.75"/>
<circle cx="418.10" cy="564.67" r="1.35" fill="#fff" stroke="#c42a4d" stroke-width="0.75"/>
<circle cx="418.67" cy="581.33" r="1.35" fill="#fff" stroke="#c42a4d" stroke-width="0.75"/>
<circle cx="424.08" cy="598.10" r="1.35" fill="#fff" stroke="#c42a4d" stroke-width="0.75"/>
<circle cx="435.20" cy="614.87" r="1.35" fill="#fff" stroke="#c42a4d" stroke-width="0.75"/>
<circle cx="459.43" cy="631.53" r="1.35" fill="#fff" stroke="#c42a4d" stroke-width="0.75"/>
<circle cx="460.19" cy="648.30" r="1.35" fill="#fff" stroke="#c42a4d" stroke-width="0.75"/>
<line x1="465.30" y1="545.00" x2="474.80" y2="545.00" stroke="#4b679f" stroke-width="1.0"/>
<rect x="468.25" y="543.65" width="2.7" height="2.7" fill="#fff" stroke="#4b679f" stroke-width="0.75"/>
<text transform="translate(477.70 548.00) scale(1.04 1)" font-size="8.1" text-anchor="start" font-weight="normal" font-style="normal" fill="#231f20">wild type</text>
<line x1="465.30" y1="558.00" x2="474.80" y2="558.00" stroke="#c42a4d" stroke-width="1.0"/>
<circle cx="469.60" cy="558.00" r="1.35" fill="#fff" stroke="#c42a4d" stroke-width="0.75"/>
<text transform="translate(477.70 561.00) scale(1.04 1)" font-size="8.1" text-anchor="start" font-weight="normal" font-style="normal" fill="#231f20"><tspan font-style="italic">wdr26b</tspan><tspan font-size="4.6" dy="-3.2">-/-</tspan></text>
<rect x="0.5" y="0.5" width="519" height="690" fill="none" stroke="#000" stroke-width="1.2"/>
</svg>
</body></html>
